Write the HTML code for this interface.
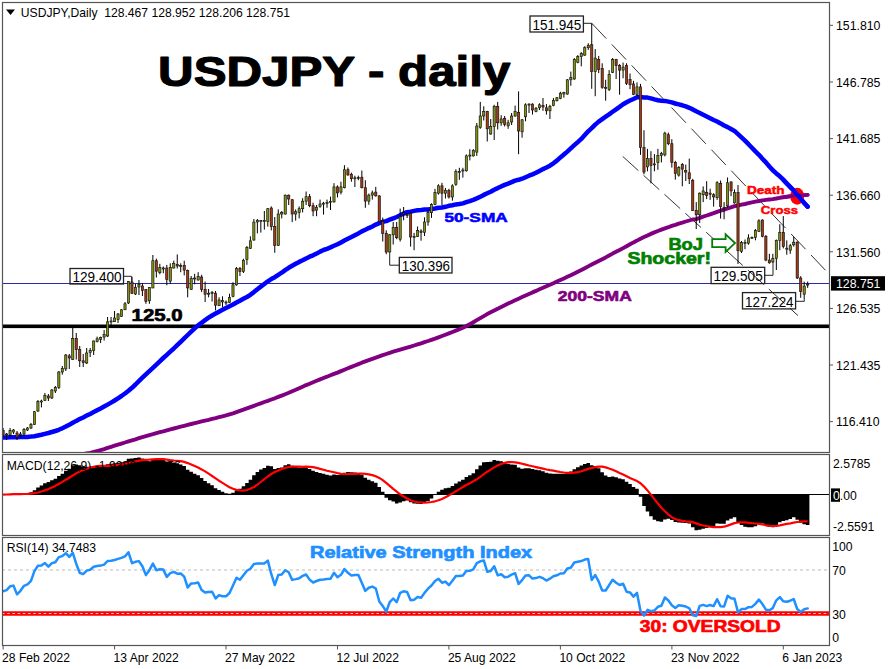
<!DOCTYPE html><html><head><meta charset="utf-8"><style>html,body{margin:0;padding:0;background:#fff;width:892px;height:669px;overflow:hidden}svg{display:block}text{font-family:"Liberation Sans",sans-serif}</style></head><body>
<svg width="892" height="669" viewBox="0 0 892 669">
<defs><clipPath id="cm"><rect x="2.5" y="2.5" width="827" height="450"/></clipPath><clipPath id="cd"><rect x="2.5" y="454.5" width="827" height="80.5"/></clipPath><clipPath id="cr"><rect x="2.5" y="537.5" width="827" height="107.5"/></clipPath></defs>
<g clip-path="url(#cm)">
<rect x="2" y="324.5" width="828" height="3.6" fill="#000"/>
<line x1="2" y1="283.5" x2="830" y2="283.5" stroke="#2a2aa8" stroke-width="1"/>
<line x1="591.8" y1="23.3" x2="827" y2="271.9" stroke="#333" stroke-width="1" stroke-dasharray="21 8"/>
<line x1="622.7" y1="156.4" x2="798" y2="315.6" stroke="#333" stroke-width="1" stroke-dasharray="21.2 7"/>
<polyline points="3.1,466.0 6.6,465.8 10.1,465.6 13.5,465.3 17.0,465.0 20.5,464.7 24.0,464.3 27.5,463.9 31.0,463.5 34.4,463.0 37.9,462.6 41.4,462.0 44.9,461.5 48.4,460.9 51.9,460.3 55.3,459.7 58.8,459.1 62.3,458.4 65.8,457.8 69.3,457.1 72.8,456.4 76.2,455.7 79.7,455.0 83.2,454.2 86.7,453.5 90.2,452.8 93.7,452.0 97.1,451.1 100.6,450.1 104.1,449.1 107.6,447.9 111.1,446.8 114.6,445.7 118.0,444.7 121.5,443.6 125.0,442.5 128.5,441.4 132.0,440.3 135.5,439.3 138.9,438.2 142.4,437.1 145.9,436.1 149.4,435.1 152.9,434.2 156.4,433.2 159.8,432.2 163.3,431.3 166.8,430.3 170.3,429.4 173.8,428.5 177.2,427.6 180.7,426.7 184.2,425.8 187.7,424.9 191.2,424.0 194.7,423.1 198.1,422.3 201.6,421.4 205.1,420.6 208.6,419.8 212.1,418.9 215.6,418.1 219.0,417.2 222.5,416.3 226.0,415.4 229.5,414.3 233.0,413.3 236.5,412.1 239.9,410.9 243.4,409.7 246.9,408.4 250.4,407.1 253.9,405.8 257.4,404.5 260.8,403.3 264.3,402.0 267.8,400.8 271.3,399.5 274.8,398.3 278.3,396.9 281.7,395.6 285.2,394.2 288.7,392.8 292.2,391.3 295.7,389.8 299.2,388.2 302.6,386.7 306.1,385.1 309.6,383.7 313.1,382.2 316.6,380.8 320.1,379.4 323.5,378.0 327.0,376.7 330.5,375.3 334.0,373.9 337.5,372.6 341.0,371.1 344.4,369.7 347.9,368.3 351.4,366.9 354.9,365.5 358.4,364.1 361.8,362.7 365.3,361.4 368.8,360.1 372.3,358.8 375.8,357.6 379.3,356.4 382.7,355.2 386.2,354.0 389.7,352.8 393.2,351.7 396.7,350.7 400.2,349.6 403.6,348.6 407.1,347.6 410.6,346.6 414.1,345.5 417.6,344.4 421.1,343.3 424.5,342.1 428.0,341.0 431.5,339.8 435.0,338.6 438.5,337.3 442.0,336.0 445.4,334.7 448.9,333.4 452.4,332.0 455.9,330.6 459.4,329.2 462.9,327.7 466.3,326.1 469.8,324.3 473.3,322.3 476.8,320.2 480.3,318.1 483.8,316.1 487.2,314.1 490.7,312.3 494.2,310.5 497.7,308.7 501.2,307.0 504.7,305.3 508.1,303.6 511.6,301.9 515.1,300.3 518.6,298.7 522.1,297.1 525.6,295.5 529.0,294.0 532.5,292.4 536.0,290.9 539.5,289.3 543.0,287.8 546.4,286.2 549.9,284.7 553.4,283.2 556.9,281.6 560.4,280.0 563.9,278.4 567.3,276.8 570.8,275.2 574.3,273.5 577.8,271.7 581.3,270.0 584.8,268.2 588.2,266.4 591.7,264.6 595.2,262.8 598.7,261.0 602.2,259.2 605.7,257.4 609.1,255.5 612.6,253.6 616.1,251.8 619.6,250.0 623.1,248.1 626.6,246.2 630.0,244.3 633.5,242.4 637.0,240.6 640.5,238.7 644.0,237.0 647.5,235.4 650.9,233.9 654.4,232.4 657.9,231.0 661.4,229.7 664.9,228.4 668.4,227.2 671.8,225.9 675.3,224.8 678.8,223.6 682.3,222.6 685.8,221.5 689.3,220.5 692.7,219.5 696.2,219.1 699.7,217.9 703.2,216.6 706.7,215.5 710.1,214.3 713.6,213.1 717.1,211.8 720.6,210.7 724.1,209.6 727.6,208.4 731.0,207.3 734.5,206.2 738.0,205.5 741.5,204.7 745.0,204.0 748.5,203.2 751.9,202.4 755.4,201.7 758.9,201.0 762.4,200.4 765.9,199.9 769.4,199.5 772.8,199.1 776.3,198.5 779.8,197.8 783.3,197.3 786.8,196.8 790.3,196.3 793.7,195.8 797.2,195.5 800.7,195.3 804.2,195.1 807.7,194.9" fill="none" stroke="#800080" stroke-width="3.9" stroke-linejoin="round" stroke-linecap="round"/>
<polyline points="2.0,437.4 3.1,437.4 6.6,437.4 10.1,437.3 13.5,437.3 17.0,437.2 20.5,437.1 24.0,437.0 27.5,436.9 31.0,436.6 34.4,436.2 37.9,435.5 41.4,434.8 44.9,433.9 48.4,433.0 51.9,432.0 55.3,431.0 58.8,429.8 62.3,428.2 65.8,426.5 69.3,424.7 72.8,422.8 76.2,420.9 79.7,419.1 83.2,417.4 86.7,415.6 90.2,413.9 93.7,412.1 97.1,410.3 100.6,408.5 104.1,406.6 107.6,404.6 111.1,402.6 114.6,400.5 118.0,398.3 121.5,396.0 125.0,393.5 128.5,390.8 132.0,387.8 135.5,384.5 138.9,381.1 142.4,377.7 145.9,374.4 149.4,371.2 152.9,367.9 156.4,364.6 159.8,361.3 163.3,358.0 166.8,354.8 170.3,351.6 173.8,348.5 177.2,345.2 180.7,341.8 184.2,338.4 187.7,335.0 191.2,331.6 194.7,328.4 198.1,325.4 201.6,322.7 205.1,320.1 208.6,317.7 212.1,315.5 215.6,313.6 219.0,311.7 222.5,309.8 226.0,308.0 229.5,306.2 233.0,304.5 236.5,302.5 239.9,300.8 243.4,298.8 246.9,297.0 250.4,294.8 253.9,292.1 257.4,289.2 260.8,286.6 264.3,284.0 267.8,281.3 271.3,279.1 274.8,277.2 278.3,274.8 281.7,272.7 285.2,270.1 288.7,267.8 292.2,265.8 295.7,263.8 299.2,261.9 302.6,260.3 306.1,258.4 309.6,256.7 313.1,255.3 316.6,253.6 320.1,251.6 323.5,250.0 327.0,248.8 330.5,247.4 334.0,245.8 337.5,244.3 341.0,242.4 344.4,240.5 347.9,238.7 351.4,237.0 354.9,235.2 358.4,233.4 361.8,231.4 365.3,229.8 368.8,228.1 372.3,226.5 375.8,224.6 379.3,223.1 382.7,221.9 386.2,221.1 389.7,219.7 393.2,218.3 396.7,217.0 400.2,215.3 403.6,213.6 407.1,212.2 410.6,211.6 414.1,210.9 417.6,210.3 421.1,210.0 424.5,209.6 428.0,209.4 431.5,209.1 435.0,208.5 438.5,207.8 442.0,207.5 445.4,206.8 448.9,205.8 452.4,205.2 455.9,204.4 459.4,204.0 462.9,203.4 466.3,202.2 469.8,201.1 473.3,199.9 476.8,198.4 480.3,196.8 483.8,194.9 487.2,193.3 490.7,191.7 494.2,189.7 497.7,188.1 501.2,186.4 504.7,184.9 508.1,183.6 511.6,182.1 515.1,180.6 518.6,179.8 522.1,178.7 525.6,177.2 529.0,175.7 532.5,174.4 536.0,172.8 539.5,170.9 543.0,169.1 546.4,167.5 549.9,165.7 553.4,163.3 556.9,160.6 560.4,157.4 563.9,154.5 567.3,151.6 570.8,148.4 574.3,145.2 577.8,142.1 581.3,138.9 584.8,135.1 588.2,131.3 591.7,128.1 595.2,124.6 598.7,121.6 602.2,119.1 605.7,116.7 609.1,114.4 612.6,111.8 616.1,109.3 619.6,106.9 623.1,104.3 626.6,102.2 630.0,100.5 633.5,99.0 637.0,97.3 640.5,97.1 644.0,97.5 647.5,97.6 650.9,98.4 654.4,99.4 657.9,100.2 661.4,100.7 664.9,100.9 668.4,101.6 671.8,102.4 675.3,103.5 678.8,104.4 682.3,105.3 685.8,106.4 689.3,107.8 692.7,109.4 696.2,111.3 699.7,113.0 703.2,114.8 706.7,116.5 710.1,118.2 713.6,120.0 717.1,121.5 720.6,123.4 724.1,125.5 727.6,127.1 731.0,129.0 734.5,130.9 738.0,134.1 741.5,137.4 745.0,140.7 748.5,144.2 751.9,147.8 755.4,151.4 758.9,154.8 762.4,158.7 765.9,162.4 769.4,166.5 772.8,170.3 776.3,173.4 779.8,176.3 783.3,179.7 786.8,183.5 790.3,187.1 793.7,190.5 797.2,194.7 800.7,198.9 804.2,202.9 807.7,206.7" fill="none" stroke="#0000ff" stroke-width="4.5" stroke-linejoin="round" stroke-linecap="round"/>
<ellipse cx="797.2" cy="196.2" rx="7" ry="8.5" fill="#ff0000"/>
<polyline points="783.3,197.3 786.8,196.8 790.3,196.3 793.7,195.8 797.2,195.5 800.7,195.3 804.2,195.1 807.7,194.9" fill="none" stroke="#800080" stroke-width="3.4" stroke-linejoin="round" stroke-linecap="round"/>
<polyline points="783.3,179.7 786.8,183.5 790.3,187.1 793.7,190.5 797.2,194.7 800.7,198.9 804.2,202.9 807.7,206.7" fill="none" stroke="#0000ff" stroke-width="4.3" stroke-linejoin="round" stroke-linecap="round"/>
<line x1="3.10" y1="428.0" x2="3.10" y2="437.0" stroke="#000" stroke-width="1"/>
<line x1="6.58" y1="433.0" x2="6.58" y2="440.0" stroke="#000" stroke-width="1"/>
<line x1="10.07" y1="428.0" x2="10.07" y2="437.0" stroke="#000" stroke-width="1"/>
<line x1="13.55" y1="429.0" x2="13.55" y2="434.0" stroke="#000" stroke-width="1"/>
<line x1="17.03" y1="431.0" x2="17.03" y2="440.0" stroke="#000" stroke-width="1"/>
<line x1="20.52" y1="432.0" x2="20.52" y2="437.0" stroke="#000" stroke-width="1"/>
<line x1="24.00" y1="428.0" x2="24.00" y2="436.0" stroke="#000" stroke-width="1"/>
<line x1="27.48" y1="427.0" x2="27.48" y2="431.0" stroke="#000" stroke-width="1"/>
<line x1="30.96" y1="423.0" x2="30.96" y2="429.0" stroke="#000" stroke-width="1"/>
<line x1="34.45" y1="411.0" x2="34.45" y2="425.0" stroke="#000" stroke-width="1"/>
<line x1="37.93" y1="400.0" x2="37.93" y2="412.0" stroke="#000" stroke-width="1"/>
<line x1="41.41" y1="399.7" x2="41.41" y2="407.4" stroke="#000" stroke-width="1"/>
<line x1="44.90" y1="393.0" x2="44.90" y2="401.0" stroke="#000" stroke-width="1"/>
<line x1="48.38" y1="394.0" x2="48.38" y2="401.0" stroke="#000" stroke-width="1"/>
<line x1="51.86" y1="389.0" x2="51.86" y2="399.0" stroke="#000" stroke-width="1"/>
<line x1="55.35" y1="386.0" x2="55.35" y2="393.0" stroke="#000" stroke-width="1"/>
<line x1="58.83" y1="371.0" x2="58.83" y2="389.0" stroke="#000" stroke-width="1"/>
<line x1="62.31" y1="366.0" x2="62.31" y2="374.7" stroke="#000" stroke-width="1"/>
<line x1="65.79" y1="354.0" x2="65.79" y2="371.0" stroke="#000" stroke-width="1"/>
<line x1="69.28" y1="354.0" x2="69.28" y2="369.0" stroke="#000" stroke-width="1"/>
<line x1="72.76" y1="327.6" x2="72.76" y2="360.0" stroke="#000" stroke-width="1"/>
<line x1="76.24" y1="333.0" x2="76.24" y2="359.5" stroke="#000" stroke-width="1"/>
<line x1="79.73" y1="346.0" x2="79.73" y2="367.0" stroke="#000" stroke-width="1"/>
<line x1="83.21" y1="354.0" x2="83.21" y2="367.0" stroke="#000" stroke-width="1"/>
<line x1="86.69" y1="348.0" x2="86.69" y2="364.0" stroke="#000" stroke-width="1"/>
<line x1="90.17" y1="348.0" x2="90.17" y2="357.0" stroke="#000" stroke-width="1"/>
<line x1="93.66" y1="340.6" x2="93.66" y2="355.0" stroke="#000" stroke-width="1"/>
<line x1="97.14" y1="336.6" x2="97.14" y2="342.4" stroke="#000" stroke-width="1"/>
<line x1="100.62" y1="336.6" x2="100.62" y2="343.0" stroke="#000" stroke-width="1"/>
<line x1="104.11" y1="330.0" x2="104.11" y2="340.6" stroke="#000" stroke-width="1"/>
<line x1="107.59" y1="317.0" x2="107.59" y2="337.0" stroke="#000" stroke-width="1"/>
<line x1="111.07" y1="317.0" x2="111.07" y2="327.0" stroke="#000" stroke-width="1"/>
<line x1="114.56" y1="311.0" x2="114.56" y2="322.0" stroke="#000" stroke-width="1"/>
<line x1="118.04" y1="313.0" x2="118.04" y2="323.0" stroke="#000" stroke-width="1"/>
<line x1="121.52" y1="309.0" x2="121.52" y2="317.0" stroke="#000" stroke-width="1"/>
<line x1="125.00" y1="302.0" x2="125.00" y2="310.0" stroke="#000" stroke-width="1"/>
<line x1="128.49" y1="281.0" x2="128.49" y2="304.0" stroke="#000" stroke-width="1"/>
<line x1="131.97" y1="277.0" x2="131.97" y2="294.0" stroke="#000" stroke-width="1"/>
<line x1="135.45" y1="284.0" x2="135.45" y2="295.0" stroke="#000" stroke-width="1"/>
<line x1="138.94" y1="280.0" x2="138.94" y2="295.0" stroke="#000" stroke-width="1"/>
<line x1="142.42" y1="283.0" x2="142.42" y2="296.0" stroke="#000" stroke-width="1"/>
<line x1="145.90" y1="289.0" x2="145.90" y2="303.8" stroke="#000" stroke-width="1"/>
<line x1="149.39" y1="287.0" x2="149.39" y2="303.8" stroke="#000" stroke-width="1"/>
<line x1="152.87" y1="255.0" x2="152.87" y2="288.0" stroke="#000" stroke-width="1"/>
<line x1="156.35" y1="258.6" x2="156.35" y2="277.5" stroke="#000" stroke-width="1"/>
<line x1="159.84" y1="263.8" x2="159.84" y2="274.3" stroke="#000" stroke-width="1"/>
<line x1="163.32" y1="266.5" x2="163.32" y2="273.3" stroke="#000" stroke-width="1"/>
<line x1="166.80" y1="264.9" x2="166.80" y2="285.3" stroke="#000" stroke-width="1"/>
<line x1="170.28" y1="263.3" x2="170.28" y2="283.7" stroke="#000" stroke-width="1"/>
<line x1="173.77" y1="260.7" x2="173.77" y2="268.5" stroke="#000" stroke-width="1"/>
<line x1="177.25" y1="254.4" x2="177.25" y2="268.5" stroke="#000" stroke-width="1"/>
<line x1="180.73" y1="263.3" x2="180.73" y2="272.2" stroke="#000" stroke-width="1"/>
<line x1="184.22" y1="260.7" x2="184.22" y2="275.4" stroke="#000" stroke-width="1"/>
<line x1="187.70" y1="269.6" x2="187.70" y2="297.3" stroke="#000" stroke-width="1"/>
<line x1="191.18" y1="276.0" x2="191.18" y2="290.0" stroke="#000" stroke-width="1"/>
<line x1="194.66" y1="273.8" x2="194.66" y2="284.3" stroke="#000" stroke-width="1"/>
<line x1="198.15" y1="272.2" x2="198.15" y2="280.6" stroke="#000" stroke-width="1"/>
<line x1="201.63" y1="274.8" x2="201.63" y2="292.1" stroke="#000" stroke-width="1"/>
<line x1="205.11" y1="281.6" x2="205.11" y2="302.0" stroke="#000" stroke-width="1"/>
<line x1="208.60" y1="289.0" x2="208.60" y2="297.3" stroke="#000" stroke-width="1"/>
<line x1="212.08" y1="291.0" x2="212.08" y2="301.5" stroke="#000" stroke-width="1"/>
<line x1="215.56" y1="291.0" x2="215.56" y2="310.4" stroke="#000" stroke-width="1"/>
<line x1="219.05" y1="297.3" x2="219.05" y2="306.0" stroke="#000" stroke-width="1"/>
<line x1="222.53" y1="296.3" x2="222.53" y2="307.3" stroke="#000" stroke-width="1"/>
<line x1="226.01" y1="300.5" x2="226.01" y2="305.0" stroke="#000" stroke-width="1"/>
<line x1="229.50" y1="293.7" x2="229.50" y2="303.0" stroke="#000" stroke-width="1"/>
<line x1="232.98" y1="282.2" x2="232.98" y2="297.3" stroke="#000" stroke-width="1"/>
<line x1="236.46" y1="267.0" x2="236.46" y2="285.7" stroke="#000" stroke-width="1"/>
<line x1="239.94" y1="267.0" x2="239.94" y2="276.0" stroke="#000" stroke-width="1"/>
<line x1="243.43" y1="258.8" x2="243.43" y2="273.0" stroke="#000" stroke-width="1"/>
<line x1="246.91" y1="246.0" x2="246.91" y2="264.8" stroke="#000" stroke-width="1"/>
<line x1="250.39" y1="236.3" x2="250.39" y2="249.0" stroke="#000" stroke-width="1"/>
<line x1="253.88" y1="219.0" x2="253.88" y2="240.8" stroke="#000" stroke-width="1"/>
<line x1="257.36" y1="219.0" x2="257.36" y2="233.4" stroke="#000" stroke-width="1"/>
<line x1="260.84" y1="220.0" x2="260.84" y2="232.6" stroke="#000" stroke-width="1"/>
<line x1="264.33" y1="211.0" x2="264.33" y2="229.6" stroke="#000" stroke-width="1"/>
<line x1="267.81" y1="208.0" x2="267.81" y2="226.6" stroke="#000" stroke-width="1"/>
<line x1="271.29" y1="206.4" x2="271.29" y2="230.4" stroke="#000" stroke-width="1"/>
<line x1="274.77" y1="217.0" x2="274.77" y2="252.8" stroke="#000" stroke-width="1"/>
<line x1="278.26" y1="209.4" x2="278.26" y2="246.0" stroke="#000" stroke-width="1"/>
<line x1="281.74" y1="211.0" x2="281.74" y2="218.4" stroke="#000" stroke-width="1"/>
<line x1="285.22" y1="194.5" x2="285.22" y2="214.6" stroke="#000" stroke-width="1"/>
<line x1="288.71" y1="194.5" x2="288.71" y2="205.0" stroke="#000" stroke-width="1"/>
<line x1="292.19" y1="199.0" x2="292.19" y2="222.1" stroke="#000" stroke-width="1"/>
<line x1="295.67" y1="209.4" x2="295.67" y2="220.6" stroke="#000" stroke-width="1"/>
<line x1="299.16" y1="206.4" x2="299.16" y2="218.4" stroke="#000" stroke-width="1"/>
<line x1="302.64" y1="198.2" x2="302.64" y2="212.4" stroke="#000" stroke-width="1"/>
<line x1="306.12" y1="191.5" x2="306.12" y2="205.0" stroke="#000" stroke-width="1"/>
<line x1="309.60" y1="194.0" x2="309.60" y2="207.2" stroke="#000" stroke-width="1"/>
<line x1="313.09" y1="202.7" x2="313.09" y2="216.2" stroke="#000" stroke-width="1"/>
<line x1="316.57" y1="205.0" x2="316.57" y2="216.2" stroke="#000" stroke-width="1"/>
<line x1="320.05" y1="199.6" x2="320.05" y2="207.8" stroke="#000" stroke-width="1"/>
<line x1="323.54" y1="201.9" x2="323.54" y2="214.6" stroke="#000" stroke-width="1"/>
<line x1="327.02" y1="199.6" x2="327.02" y2="207.8" stroke="#000" stroke-width="1"/>
<line x1="330.50" y1="196.6" x2="330.50" y2="210.0" stroke="#000" stroke-width="1"/>
<line x1="333.99" y1="183.2" x2="333.99" y2="202.6" stroke="#000" stroke-width="1"/>
<line x1="337.47" y1="185.4" x2="337.47" y2="197.4" stroke="#000" stroke-width="1"/>
<line x1="340.95" y1="181.7" x2="340.95" y2="194.4" stroke="#000" stroke-width="1"/>
<line x1="344.43" y1="165.2" x2="344.43" y2="188.4" stroke="#000" stroke-width="1"/>
<line x1="347.92" y1="167.5" x2="347.92" y2="175.7" stroke="#000" stroke-width="1"/>
<line x1="351.40" y1="172.7" x2="351.40" y2="181.7" stroke="#000" stroke-width="1"/>
<line x1="354.88" y1="175.7" x2="354.88" y2="187.0" stroke="#000" stroke-width="1"/>
<line x1="358.37" y1="175.7" x2="358.37" y2="180.2" stroke="#000" stroke-width="1"/>
<line x1="361.85" y1="170.5" x2="361.85" y2="188.4" stroke="#000" stroke-width="1"/>
<line x1="365.33" y1="180.2" x2="365.33" y2="207.8" stroke="#000" stroke-width="1"/>
<line x1="368.82" y1="193.6" x2="368.82" y2="204.8" stroke="#000" stroke-width="1"/>
<line x1="372.30" y1="190.6" x2="372.30" y2="199.6" stroke="#000" stroke-width="1"/>
<line x1="375.78" y1="186.9" x2="375.78" y2="196.6" stroke="#000" stroke-width="1"/>
<line x1="379.26" y1="195.1" x2="379.26" y2="222.0" stroke="#000" stroke-width="1"/>
<line x1="382.75" y1="217.6" x2="382.75" y2="241.5" stroke="#000" stroke-width="1"/>
<line x1="386.23" y1="230.3" x2="386.23" y2="254.2" stroke="#000" stroke-width="1"/>
<line x1="389.71" y1="234.0" x2="389.71" y2="252.0" stroke="#000" stroke-width="1"/>
<line x1="393.20" y1="222.0" x2="393.20" y2="244.5" stroke="#000" stroke-width="1"/>
<line x1="396.68" y1="222.0" x2="396.68" y2="239.2" stroke="#000" stroke-width="1"/>
<line x1="400.16" y1="208.6" x2="400.16" y2="241.5" stroke="#000" stroke-width="1"/>
<line x1="403.65" y1="207.0" x2="403.65" y2="220.3" stroke="#000" stroke-width="1"/>
<line x1="407.13" y1="213.0" x2="407.13" y2="218.0" stroke="#000" stroke-width="1"/>
<line x1="410.61" y1="212.0" x2="410.61" y2="246.6" stroke="#000" stroke-width="1"/>
<line x1="414.09" y1="232.9" x2="414.09" y2="250.2" stroke="#000" stroke-width="1"/>
<line x1="417.58" y1="226.5" x2="417.58" y2="237.0" stroke="#000" stroke-width="1"/>
<line x1="421.06" y1="229.3" x2="421.06" y2="240.7" stroke="#000" stroke-width="1"/>
<line x1="424.54" y1="217.3" x2="424.54" y2="236.0" stroke="#000" stroke-width="1"/>
<line x1="428.03" y1="210.0" x2="428.03" y2="225.7" stroke="#000" stroke-width="1"/>
<line x1="431.51" y1="203.3" x2="431.51" y2="217.9" stroke="#000" stroke-width="1"/>
<line x1="434.99" y1="188.8" x2="434.99" y2="205.2" stroke="#000" stroke-width="1"/>
<line x1="438.48" y1="184.3" x2="438.48" y2="194.6" stroke="#000" stroke-width="1"/>
<line x1="441.96" y1="182.8" x2="441.96" y2="205.2" stroke="#000" stroke-width="1"/>
<line x1="445.44" y1="188.0" x2="445.44" y2="198.5" stroke="#000" stroke-width="1"/>
<line x1="448.92" y1="188.8" x2="448.92" y2="198.5" stroke="#000" stroke-width="1"/>
<line x1="452.41" y1="184.3" x2="452.41" y2="200.7" stroke="#000" stroke-width="1"/>
<line x1="455.89" y1="169.3" x2="455.89" y2="185.8" stroke="#000" stroke-width="1"/>
<line x1="459.37" y1="167.8" x2="459.37" y2="179.8" stroke="#000" stroke-width="1"/>
<line x1="462.86" y1="167.8" x2="462.86" y2="177.6" stroke="#000" stroke-width="1"/>
<line x1="466.34" y1="154.4" x2="466.34" y2="171.6" stroke="#000" stroke-width="1"/>
<line x1="469.82" y1="149.2" x2="469.82" y2="160.4" stroke="#000" stroke-width="1"/>
<line x1="473.31" y1="149.2" x2="473.31" y2="156.6" stroke="#000" stroke-width="1"/>
<line x1="476.79" y1="123.0" x2="476.79" y2="155.9" stroke="#000" stroke-width="1"/>
<line x1="480.27" y1="101.9" x2="480.27" y2="128.8" stroke="#000" stroke-width="1"/>
<line x1="483.75" y1="106.3" x2="483.75" y2="120.5" stroke="#000" stroke-width="1"/>
<line x1="487.24" y1="110.8" x2="487.24" y2="141.5" stroke="#000" stroke-width="1"/>
<line x1="490.72" y1="119.0" x2="490.72" y2="134.7" stroke="#000" stroke-width="1"/>
<line x1="494.20" y1="104.8" x2="494.20" y2="140.0" stroke="#000" stroke-width="1"/>
<line x1="497.69" y1="101.9" x2="497.69" y2="129.5" stroke="#000" stroke-width="1"/>
<line x1="501.17" y1="115.3" x2="501.17" y2="125.8" stroke="#000" stroke-width="1"/>
<line x1="504.65" y1="116.0" x2="504.65" y2="126.5" stroke="#000" stroke-width="1"/>
<line x1="508.14" y1="119.8" x2="508.14" y2="128.8" stroke="#000" stroke-width="1"/>
<line x1="511.62" y1="113.0" x2="511.62" y2="125.0" stroke="#000" stroke-width="1"/>
<line x1="515.10" y1="105.6" x2="515.10" y2="116.8" stroke="#000" stroke-width="1"/>
<line x1="518.58" y1="91.4" x2="518.58" y2="154.2" stroke="#000" stroke-width="1"/>
<line x1="522.07" y1="119.0" x2="522.07" y2="137.7" stroke="#000" stroke-width="1"/>
<line x1="525.55" y1="103.3" x2="525.55" y2="121.3" stroke="#000" stroke-width="1"/>
<line x1="529.03" y1="103.3" x2="529.03" y2="113.0" stroke="#000" stroke-width="1"/>
<line x1="532.52" y1="103.3" x2="532.52" y2="114.6" stroke="#000" stroke-width="1"/>
<line x1="536.00" y1="107.0" x2="536.00" y2="112.3" stroke="#000" stroke-width="1"/>
<line x1="539.48" y1="103.3" x2="539.48" y2="110.0" stroke="#000" stroke-width="1"/>
<line x1="542.97" y1="98.0" x2="542.97" y2="110.8" stroke="#000" stroke-width="1"/>
<line x1="546.45" y1="104.1" x2="546.45" y2="114.6" stroke="#000" stroke-width="1"/>
<line x1="549.93" y1="104.8" x2="549.93" y2="119.0" stroke="#000" stroke-width="1"/>
<line x1="553.41" y1="98.0" x2="553.41" y2="106.3" stroke="#000" stroke-width="1"/>
<line x1="556.90" y1="97.0" x2="556.90" y2="101.5" stroke="#000" stroke-width="1"/>
<line x1="560.38" y1="91.8" x2="560.38" y2="99.2" stroke="#000" stroke-width="1"/>
<line x1="563.86" y1="91.8" x2="563.86" y2="97.7" stroke="#000" stroke-width="1"/>
<line x1="567.35" y1="79.0" x2="567.35" y2="94.7" stroke="#000" stroke-width="1"/>
<line x1="570.83" y1="71.6" x2="570.83" y2="85.8" stroke="#000" stroke-width="1"/>
<line x1="574.31" y1="58.1" x2="574.31" y2="79.8" stroke="#000" stroke-width="1"/>
<line x1="577.80" y1="55.1" x2="577.80" y2="63.3" stroke="#000" stroke-width="1"/>
<line x1="581.28" y1="52.1" x2="581.28" y2="66.3" stroke="#000" stroke-width="1"/>
<line x1="584.76" y1="46.2" x2="584.76" y2="55.9" stroke="#000" stroke-width="1"/>
<line x1="588.24" y1="43.2" x2="588.24" y2="49.9" stroke="#000" stroke-width="1"/>
<line x1="591.73" y1="23.7" x2="591.73" y2="88.8" stroke="#000" stroke-width="1"/>
<line x1="595.21" y1="49.1" x2="595.21" y2="96.2" stroke="#000" stroke-width="1"/>
<line x1="598.69" y1="55.9" x2="598.69" y2="73.1" stroke="#000" stroke-width="1"/>
<line x1="602.18" y1="63.3" x2="602.18" y2="88.8" stroke="#000" stroke-width="1"/>
<line x1="605.66" y1="79.8" x2="605.66" y2="100.7" stroke="#000" stroke-width="1"/>
<line x1="609.14" y1="70.1" x2="609.14" y2="91.0" stroke="#000" stroke-width="1"/>
<line x1="612.62" y1="58.1" x2="612.62" y2="73.1" stroke="#000" stroke-width="1"/>
<line x1="616.11" y1="58.9" x2="616.11" y2="79.0" stroke="#000" stroke-width="1"/>
<line x1="619.59" y1="64.1" x2="619.59" y2="94.7" stroke="#000" stroke-width="1"/>
<line x1="623.07" y1="62.6" x2="623.07" y2="78.3" stroke="#000" stroke-width="1"/>
<line x1="626.56" y1="63.3" x2="626.56" y2="85.0" stroke="#000" stroke-width="1"/>
<line x1="630.04" y1="73.5" x2="630.04" y2="89.2" stroke="#000" stroke-width="1"/>
<line x1="633.52" y1="80.9" x2="633.52" y2="95.1" stroke="#000" stroke-width="1"/>
<line x1="637.01" y1="82.4" x2="637.01" y2="95.9" stroke="#000" stroke-width="1"/>
<line x1="640.49" y1="83.9" x2="640.49" y2="154.9" stroke="#000" stroke-width="1"/>
<line x1="643.97" y1="130.2" x2="643.97" y2="174.3" stroke="#000" stroke-width="1"/>
<line x1="647.46" y1="148.9" x2="647.46" y2="171.3" stroke="#000" stroke-width="1"/>
<line x1="650.94" y1="151.2" x2="650.94" y2="183.3" stroke="#000" stroke-width="1"/>
<line x1="654.42" y1="154.1" x2="654.42" y2="171.3" stroke="#000" stroke-width="1"/>
<line x1="657.90" y1="148.9" x2="657.90" y2="169.8" stroke="#000" stroke-width="1"/>
<line x1="661.39" y1="151.9" x2="661.39" y2="162.4" stroke="#000" stroke-width="1"/>
<line x1="664.87" y1="131.7" x2="664.87" y2="156.4" stroke="#000" stroke-width="1"/>
<line x1="668.35" y1="132.5" x2="668.35" y2="145.2" stroke="#000" stroke-width="1"/>
<line x1="671.84" y1="139.2" x2="671.84" y2="167.6" stroke="#000" stroke-width="1"/>
<line x1="675.32" y1="160.9" x2="675.32" y2="179.6" stroke="#000" stroke-width="1"/>
<line x1="678.80" y1="166.1" x2="678.80" y2="176.6" stroke="#000" stroke-width="1"/>
<line x1="682.29" y1="163.1" x2="682.29" y2="186.3" stroke="#000" stroke-width="1"/>
<line x1="685.77" y1="164.6" x2="685.77" y2="181.0" stroke="#000" stroke-width="1"/>
<line x1="689.25" y1="158.6" x2="689.25" y2="184.0" stroke="#000" stroke-width="1"/>
<line x1="692.73" y1="178.8" x2="692.73" y2="211.0" stroke="#000" stroke-width="1"/>
<line x1="696.22" y1="202.1" x2="696.22" y2="229.0" stroke="#000" stroke-width="1"/>
<line x1="699.70" y1="192.4" x2="699.70" y2="223.0" stroke="#000" stroke-width="1"/>
<line x1="703.18" y1="186.4" x2="703.18" y2="202.1" stroke="#000" stroke-width="1"/>
<line x1="706.67" y1="181.2" x2="706.67" y2="199.1" stroke="#000" stroke-width="1"/>
<line x1="710.15" y1="188.7" x2="710.15" y2="199.9" stroke="#000" stroke-width="1"/>
<line x1="713.63" y1="193.2" x2="713.63" y2="206.6" stroke="#000" stroke-width="1"/>
<line x1="717.12" y1="181.2" x2="717.12" y2="199.9" stroke="#000" stroke-width="1"/>
<line x1="720.60" y1="180.5" x2="720.60" y2="218.6" stroke="#000" stroke-width="1"/>
<line x1="724.08" y1="202.1" x2="724.08" y2="219.3" stroke="#000" stroke-width="1"/>
<line x1="727.56" y1="177.5" x2="727.56" y2="207.4" stroke="#000" stroke-width="1"/>
<line x1="731.05" y1="181.2" x2="731.05" y2="196.2" stroke="#000" stroke-width="1"/>
<line x1="734.53" y1="189.4" x2="734.53" y2="203.6" stroke="#000" stroke-width="1"/>
<line x1="738.01" y1="185.0" x2="738.01" y2="264.0" stroke="#000" stroke-width="1"/>
<line x1="741.50" y1="241.0" x2="741.50" y2="253.0" stroke="#000" stroke-width="1"/>
<line x1="744.98" y1="239.5" x2="744.98" y2="249.2" stroke="#000" stroke-width="1"/>
<line x1="748.46" y1="234.3" x2="748.46" y2="244.7" stroke="#000" stroke-width="1"/>
<line x1="751.95" y1="236.5" x2="751.95" y2="238.8" stroke="#000" stroke-width="1"/>
<line x1="755.43" y1="229.0" x2="755.43" y2="240.3" stroke="#000" stroke-width="1"/>
<line x1="758.91" y1="219.3" x2="758.91" y2="232.0" stroke="#000" stroke-width="1"/>
<line x1="762.39" y1="219.3" x2="762.39" y2="237.3" stroke="#000" stroke-width="1"/>
<line x1="765.88" y1="235.0" x2="765.88" y2="261.2" stroke="#000" stroke-width="1"/>
<line x1="769.36" y1="253.8" x2="769.36" y2="263.7" stroke="#000" stroke-width="1"/>
<line x1="772.84" y1="253.8" x2="772.84" y2="262.8" stroke="#000" stroke-width="1"/>
<line x1="776.33" y1="239.5" x2="776.33" y2="270.0" stroke="#000" stroke-width="1"/>
<line x1="779.81" y1="224.2" x2="779.81" y2="250.2" stroke="#000" stroke-width="1"/>
<line x1="783.29" y1="216.1" x2="783.29" y2="248.4" stroke="#000" stroke-width="1"/>
<line x1="786.78" y1="240.4" x2="786.78" y2="254.7" stroke="#000" stroke-width="1"/>
<line x1="790.26" y1="243.9" x2="790.26" y2="253.8" stroke="#000" stroke-width="1"/>
<line x1="793.74" y1="236.8" x2="793.74" y2="246.6" stroke="#000" stroke-width="1"/>
<line x1="797.22" y1="241.3" x2="797.22" y2="279.0" stroke="#000" stroke-width="1"/>
<line x1="800.71" y1="276.2" x2="800.71" y2="297.8" stroke="#000" stroke-width="1"/>
<line x1="804.19" y1="281.6" x2="804.19" y2="299.6" stroke="#000" stroke-width="1"/>
<line x1="807.67" y1="281.6" x2="807.67" y2="287.9" stroke="#000" stroke-width="1"/>
<rect x="2.00" y="430.6" width="2.2" height="4.4" fill="#a8380e" stroke="#111" stroke-width="0.65"/>
<rect x="5.48" y="434.0" width="2.2" height="1.0" fill="#82920c" stroke="#111" stroke-width="0.65"/>
<rect x="8.97" y="430.6" width="2.2" height="4.4" fill="#82920c" stroke="#111" stroke-width="0.65"/>
<rect x="12.45" y="430.0" width="2.2" height="2.0" fill="#82920c" stroke="#111" stroke-width="0.65"/>
<rect x="15.93" y="433.0" width="2.2" height="4.0" fill="#a8380e" stroke="#111" stroke-width="0.65"/>
<rect x="19.41" y="434.0" width="2.2" height="1.0" fill="#82920c" stroke="#111" stroke-width="0.65"/>
<rect x="22.90" y="429.5" width="2.2" height="4.5" fill="#82920c" stroke="#111" stroke-width="0.65"/>
<rect x="26.38" y="428.0" width="2.2" height="2.0" fill="#82920c" stroke="#111" stroke-width="0.65"/>
<rect x="29.86" y="424.6" width="2.2" height="3.4" fill="#82920c" stroke="#111" stroke-width="0.65"/>
<rect x="33.35" y="411.7" width="2.2" height="12.9" fill="#82920c" stroke="#111" stroke-width="0.65"/>
<rect x="36.83" y="401.4" width="2.2" height="9.6" fill="#82920c" stroke="#111" stroke-width="0.65"/>
<rect x="40.31" y="401.0" width="2.2" height="1.0" fill="#82920c" stroke="#111" stroke-width="0.65"/>
<rect x="43.80" y="395.4" width="2.2" height="5.1" fill="#82920c" stroke="#111" stroke-width="0.65"/>
<rect x="47.28" y="396.0" width="2.2" height="2.0" fill="#a8380e" stroke="#111" stroke-width="0.65"/>
<rect x="50.76" y="390.0" width="2.2" height="8.0" fill="#82920c" stroke="#111" stroke-width="0.65"/>
<rect x="54.25" y="387.6" width="2.2" height="3.4" fill="#82920c" stroke="#111" stroke-width="0.65"/>
<rect x="57.73" y="372.0" width="2.2" height="15.6" fill="#82920c" stroke="#111" stroke-width="0.65"/>
<rect x="61.21" y="368.4" width="2.2" height="3.6" fill="#82920c" stroke="#111" stroke-width="0.65"/>
<rect x="64.69" y="355.0" width="2.2" height="13.9" fill="#82920c" stroke="#111" stroke-width="0.65"/>
<rect x="68.18" y="355.9" width="2.2" height="2.1" fill="#a8380e" stroke="#111" stroke-width="0.65"/>
<rect x="71.66" y="338.4" width="2.2" height="21.1" fill="#82920c" stroke="#111" stroke-width="0.65"/>
<rect x="75.14" y="338.4" width="2.2" height="11.2" fill="#a8380e" stroke="#111" stroke-width="0.65"/>
<rect x="78.63" y="349.6" width="2.2" height="11.2" fill="#a8380e" stroke="#111" stroke-width="0.65"/>
<rect x="82.11" y="360.8" width="2.2" height="1.8" fill="#a8380e" stroke="#111" stroke-width="0.65"/>
<rect x="85.59" y="353.0" width="2.2" height="10.0" fill="#82920c" stroke="#111" stroke-width="0.65"/>
<rect x="89.08" y="350.5" width="2.2" height="1.8" fill="#82920c" stroke="#111" stroke-width="0.65"/>
<rect x="92.56" y="341.0" width="2.2" height="9.5" fill="#82920c" stroke="#111" stroke-width="0.65"/>
<rect x="96.04" y="338.8" width="2.2" height="2.7" fill="#82920c" stroke="#111" stroke-width="0.65"/>
<rect x="99.52" y="337.5" width="2.2" height="1.8" fill="#82920c" stroke="#111" stroke-width="0.65"/>
<rect x="103.01" y="334.3" width="2.2" height="2.7" fill="#82920c" stroke="#111" stroke-width="0.65"/>
<rect x="106.49" y="321.8" width="2.2" height="14.2" fill="#82920c" stroke="#111" stroke-width="0.65"/>
<rect x="109.97" y="321.0" width="2.2" height="1.0" fill="#82920c" stroke="#111" stroke-width="0.65"/>
<rect x="113.46" y="318.0" width="2.2" height="3.7" fill="#82920c" stroke="#111" stroke-width="0.65"/>
<rect x="116.94" y="314.0" width="2.2" height="5.5" fill="#82920c" stroke="#111" stroke-width="0.65"/>
<rect x="120.42" y="309.8" width="2.2" height="6.7" fill="#82920c" stroke="#111" stroke-width="0.65"/>
<rect x="123.91" y="303.8" width="2.2" height="6.0" fill="#82920c" stroke="#111" stroke-width="0.65"/>
<rect x="127.39" y="281.4" width="2.2" height="21.6" fill="#82920c" stroke="#111" stroke-width="0.65"/>
<rect x="130.87" y="282.0" width="2.2" height="11.3" fill="#a8380e" stroke="#111" stroke-width="0.65"/>
<rect x="134.35" y="287.4" width="2.2" height="6.6" fill="#82920c" stroke="#111" stroke-width="0.65"/>
<rect x="137.84" y="284.5" width="2.2" height="2.5" fill="#82920c" stroke="#111" stroke-width="0.65"/>
<rect x="141.32" y="286.0" width="2.2" height="4.4" fill="#a8380e" stroke="#111" stroke-width="0.65"/>
<rect x="144.80" y="289.6" width="2.2" height="12.0" fill="#a8380e" stroke="#111" stroke-width="0.65"/>
<rect x="148.29" y="287.4" width="2.2" height="13.4" fill="#82920c" stroke="#111" stroke-width="0.65"/>
<rect x="151.77" y="260.7" width="2.2" height="27.3" fill="#82920c" stroke="#111" stroke-width="0.65"/>
<rect x="155.25" y="260.7" width="2.2" height="10.5" fill="#a8380e" stroke="#111" stroke-width="0.65"/>
<rect x="158.74" y="267.5" width="2.2" height="5.2" fill="#82920c" stroke="#111" stroke-width="0.65"/>
<rect x="162.22" y="268.0" width="2.2" height="1.0" fill="#82920c" stroke="#111" stroke-width="0.65"/>
<rect x="165.70" y="268.0" width="2.2" height="11.5" fill="#a8380e" stroke="#111" stroke-width="0.65"/>
<rect x="169.18" y="267.5" width="2.2" height="13.6" fill="#82920c" stroke="#111" stroke-width="0.65"/>
<rect x="172.67" y="263.3" width="2.2" height="4.7" fill="#82920c" stroke="#111" stroke-width="0.65"/>
<rect x="176.15" y="264.4" width="2.2" height="1.6" fill="#a8380e" stroke="#111" stroke-width="0.65"/>
<rect x="179.63" y="265.4" width="2.2" height="1.0" fill="#82920c" stroke="#111" stroke-width="0.65"/>
<rect x="183.12" y="265.4" width="2.2" height="4.7" fill="#a8380e" stroke="#111" stroke-width="0.65"/>
<rect x="186.60" y="270.6" width="2.2" height="17.3" fill="#a8380e" stroke="#111" stroke-width="0.65"/>
<rect x="190.08" y="278.5" width="2.2" height="11.0" fill="#82920c" stroke="#111" stroke-width="0.65"/>
<rect x="193.56" y="278.0" width="2.2" height="1.0" fill="#82920c" stroke="#111" stroke-width="0.65"/>
<rect x="197.05" y="276.4" width="2.2" height="3.6" fill="#82920c" stroke="#111" stroke-width="0.65"/>
<rect x="200.53" y="277.0" width="2.2" height="12.5" fill="#a8380e" stroke="#111" stroke-width="0.65"/>
<rect x="204.01" y="289.5" width="2.2" height="4.7" fill="#a8380e" stroke="#111" stroke-width="0.65"/>
<rect x="207.50" y="293.2" width="2.2" height="1.0" fill="#82920c" stroke="#111" stroke-width="0.65"/>
<rect x="210.98" y="292.6" width="2.2" height="1.0" fill="#82920c" stroke="#111" stroke-width="0.65"/>
<rect x="214.46" y="293.2" width="2.2" height="12.0" fill="#a8380e" stroke="#111" stroke-width="0.65"/>
<rect x="217.95" y="300.0" width="2.2" height="5.7" fill="#82920c" stroke="#111" stroke-width="0.65"/>
<rect x="221.43" y="300.5" width="2.2" height="1.5" fill="#a8380e" stroke="#111" stroke-width="0.65"/>
<rect x="224.91" y="302.0" width="2.2" height="1.0" fill="#82920c" stroke="#111" stroke-width="0.65"/>
<rect x="228.40" y="297.3" width="2.2" height="5.3" fill="#82920c" stroke="#111" stroke-width="0.65"/>
<rect x="231.88" y="284.8" width="2.2" height="11.5" fill="#82920c" stroke="#111" stroke-width="0.65"/>
<rect x="235.36" y="268.5" width="2.2" height="16.4" fill="#82920c" stroke="#111" stroke-width="0.65"/>
<rect x="238.84" y="268.5" width="2.2" height="3.0" fill="#a8380e" stroke="#111" stroke-width="0.65"/>
<rect x="242.33" y="260.3" width="2.2" height="11.2" fill="#82920c" stroke="#111" stroke-width="0.65"/>
<rect x="245.81" y="247.6" width="2.2" height="11.9" fill="#82920c" stroke="#111" stroke-width="0.65"/>
<rect x="249.29" y="240.8" width="2.2" height="7.5" fill="#82920c" stroke="#111" stroke-width="0.65"/>
<rect x="252.78" y="222.1" width="2.2" height="17.9" fill="#82920c" stroke="#111" stroke-width="0.65"/>
<rect x="256.26" y="220.6" width="2.2" height="1.4" fill="#82920c" stroke="#111" stroke-width="0.65"/>
<rect x="259.74" y="220.6" width="2.2" height="1.0" fill="#82920c" stroke="#111" stroke-width="0.65"/>
<rect x="263.23" y="220.4" width="2.2" height="1.0" fill="#82920c" stroke="#111" stroke-width="0.65"/>
<rect x="266.71" y="208.7" width="2.2" height="12.7" fill="#82920c" stroke="#111" stroke-width="0.65"/>
<rect x="270.19" y="208.0" width="2.2" height="18.6" fill="#a8380e" stroke="#111" stroke-width="0.65"/>
<rect x="273.67" y="226.6" width="2.2" height="18.7" fill="#a8380e" stroke="#111" stroke-width="0.65"/>
<rect x="277.16" y="214.0" width="2.2" height="31.3" fill="#82920c" stroke="#111" stroke-width="0.65"/>
<rect x="280.64" y="212.4" width="2.2" height="1.6" fill="#82920c" stroke="#111" stroke-width="0.65"/>
<rect x="284.12" y="195.2" width="2.2" height="18.8" fill="#82920c" stroke="#111" stroke-width="0.65"/>
<rect x="287.61" y="195.2" width="2.2" height="3.8" fill="#a8380e" stroke="#111" stroke-width="0.65"/>
<rect x="291.09" y="199.7" width="2.2" height="14.3" fill="#a8380e" stroke="#111" stroke-width="0.65"/>
<rect x="294.57" y="211.7" width="2.2" height="2.3" fill="#82920c" stroke="#111" stroke-width="0.65"/>
<rect x="298.06" y="208.7" width="2.2" height="3.7" fill="#82920c" stroke="#111" stroke-width="0.65"/>
<rect x="301.54" y="201.2" width="2.2" height="7.5" fill="#82920c" stroke="#111" stroke-width="0.65"/>
<rect x="305.02" y="196.7" width="2.2" height="4.5" fill="#82920c" stroke="#111" stroke-width="0.65"/>
<rect x="308.50" y="196.7" width="2.2" height="9.0" fill="#a8380e" stroke="#111" stroke-width="0.65"/>
<rect x="311.99" y="205.7" width="2.2" height="5.3" fill="#a8380e" stroke="#111" stroke-width="0.65"/>
<rect x="315.47" y="207.2" width="2.2" height="3.0" fill="#82920c" stroke="#111" stroke-width="0.65"/>
<rect x="318.95" y="204.0" width="2.2" height="2.3" fill="#82920c" stroke="#111" stroke-width="0.65"/>
<rect x="322.44" y="203.2" width="2.2" height="1.0" fill="#82920c" stroke="#111" stroke-width="0.65"/>
<rect x="325.92" y="202.4" width="2.2" height="1.0" fill="#82920c" stroke="#111" stroke-width="0.65"/>
<rect x="329.40" y="201.4" width="2.2" height="1.0" fill="#82920c" stroke="#111" stroke-width="0.65"/>
<rect x="332.88" y="186.9" width="2.2" height="15.0" fill="#82920c" stroke="#111" stroke-width="0.65"/>
<rect x="336.37" y="186.9" width="2.2" height="6.0" fill="#a8380e" stroke="#111" stroke-width="0.65"/>
<rect x="339.85" y="186.9" width="2.2" height="5.2" fill="#82920c" stroke="#111" stroke-width="0.65"/>
<rect x="343.33" y="169.7" width="2.2" height="18.0" fill="#82920c" stroke="#111" stroke-width="0.65"/>
<rect x="346.82" y="169.7" width="2.2" height="5.3" fill="#a8380e" stroke="#111" stroke-width="0.65"/>
<rect x="350.30" y="174.2" width="2.2" height="4.5" fill="#a8380e" stroke="#111" stroke-width="0.65"/>
<rect x="353.78" y="177.8" width="2.2" height="1.0" fill="#82920c" stroke="#111" stroke-width="0.65"/>
<rect x="357.27" y="177.4" width="2.2" height="1.0" fill="#82920c" stroke="#111" stroke-width="0.65"/>
<rect x="360.75" y="177.2" width="2.2" height="10.5" fill="#a8380e" stroke="#111" stroke-width="0.65"/>
<rect x="364.23" y="187.7" width="2.2" height="13.4" fill="#a8380e" stroke="#111" stroke-width="0.65"/>
<rect x="367.72" y="195.1" width="2.2" height="6.0" fill="#82920c" stroke="#111" stroke-width="0.65"/>
<rect x="371.20" y="192.9" width="2.2" height="2.2" fill="#82920c" stroke="#111" stroke-width="0.65"/>
<rect x="374.68" y="192.1" width="2.2" height="3.8" fill="#a8380e" stroke="#111" stroke-width="0.65"/>
<rect x="378.16" y="195.9" width="2.2" height="25.4" fill="#a8380e" stroke="#111" stroke-width="0.65"/>
<rect x="381.65" y="221.3" width="2.2" height="12.0" fill="#a8380e" stroke="#111" stroke-width="0.65"/>
<rect x="385.13" y="233.3" width="2.2" height="18.7" fill="#a8380e" stroke="#111" stroke-width="0.65"/>
<rect x="388.61" y="234.8" width="2.2" height="17.2" fill="#82920c" stroke="#111" stroke-width="0.65"/>
<rect x="392.10" y="227.3" width="2.2" height="7.5" fill="#82920c" stroke="#111" stroke-width="0.65"/>
<rect x="395.58" y="227.3" width="2.2" height="10.4" fill="#a8380e" stroke="#111" stroke-width="0.65"/>
<rect x="399.06" y="216.8" width="2.2" height="22.4" fill="#82920c" stroke="#111" stroke-width="0.65"/>
<rect x="402.55" y="213.0" width="2.2" height="1.0" fill="#82920c" stroke="#111" stroke-width="0.65"/>
<rect x="406.03" y="214.5" width="2.2" height="1.0" fill="#82920c" stroke="#111" stroke-width="0.65"/>
<rect x="409.51" y="213.2" width="2.2" height="23.8" fill="#a8380e" stroke="#111" stroke-width="0.65"/>
<rect x="412.99" y="236.3" width="2.2" height="1.0" fill="#82920c" stroke="#111" stroke-width="0.65"/>
<rect x="416.48" y="230.5" width="2.2" height="6.0" fill="#82920c" stroke="#111" stroke-width="0.65"/>
<rect x="419.96" y="231.0" width="2.2" height="1.3" fill="#a8380e" stroke="#111" stroke-width="0.65"/>
<rect x="423.44" y="222.0" width="2.2" height="10.3" fill="#82920c" stroke="#111" stroke-width="0.65"/>
<rect x="426.93" y="212.6" width="2.2" height="9.4" fill="#82920c" stroke="#111" stroke-width="0.65"/>
<rect x="430.41" y="204.5" width="2.2" height="8.2" fill="#82920c" stroke="#111" stroke-width="0.65"/>
<rect x="433.89" y="192.5" width="2.2" height="12.0" fill="#82920c" stroke="#111" stroke-width="0.65"/>
<rect x="437.38" y="185.8" width="2.2" height="7.4" fill="#82920c" stroke="#111" stroke-width="0.65"/>
<rect x="440.86" y="185.8" width="2.2" height="7.4" fill="#a8380e" stroke="#111" stroke-width="0.65"/>
<rect x="444.34" y="190.3" width="2.2" height="2.9" fill="#82920c" stroke="#111" stroke-width="0.65"/>
<rect x="447.82" y="190.3" width="2.2" height="6.7" fill="#a8380e" stroke="#111" stroke-width="0.65"/>
<rect x="451.31" y="185.8" width="2.2" height="11.2" fill="#82920c" stroke="#111" stroke-width="0.65"/>
<rect x="454.79" y="171.6" width="2.2" height="12.7" fill="#82920c" stroke="#111" stroke-width="0.65"/>
<rect x="458.27" y="171.6" width="2.2" height="1.0" fill="#82920c" stroke="#111" stroke-width="0.65"/>
<rect x="461.76" y="170.0" width="2.2" height="1.0" fill="#82920c" stroke="#111" stroke-width="0.65"/>
<rect x="465.24" y="155.9" width="2.2" height="14.9" fill="#82920c" stroke="#111" stroke-width="0.65"/>
<rect x="468.72" y="155.1" width="2.2" height="1.0" fill="#82920c" stroke="#111" stroke-width="0.65"/>
<rect x="472.21" y="150.6" width="2.2" height="5.3" fill="#82920c" stroke="#111" stroke-width="0.65"/>
<rect x="475.69" y="126.0" width="2.2" height="26.1" fill="#82920c" stroke="#111" stroke-width="0.65"/>
<rect x="479.17" y="116.0" width="2.2" height="11.3" fill="#82920c" stroke="#111" stroke-width="0.65"/>
<rect x="482.65" y="111.6" width="2.2" height="4.4" fill="#82920c" stroke="#111" stroke-width="0.65"/>
<rect x="486.14" y="111.6" width="2.2" height="17.2" fill="#a8380e" stroke="#111" stroke-width="0.65"/>
<rect x="489.62" y="126.5" width="2.2" height="7.5" fill="#82920c" stroke="#111" stroke-width="0.65"/>
<rect x="493.10" y="106.3" width="2.2" height="20.2" fill="#82920c" stroke="#111" stroke-width="0.65"/>
<rect x="496.59" y="106.3" width="2.2" height="16.5" fill="#a8380e" stroke="#111" stroke-width="0.65"/>
<rect x="500.07" y="119.0" width="2.2" height="3.8" fill="#82920c" stroke="#111" stroke-width="0.65"/>
<rect x="503.55" y="118.3" width="2.2" height="6.0" fill="#a8380e" stroke="#111" stroke-width="0.65"/>
<rect x="507.04" y="122.8" width="2.2" height="3.0" fill="#82920c" stroke="#111" stroke-width="0.65"/>
<rect x="510.52" y="116.0" width="2.2" height="6.0" fill="#82920c" stroke="#111" stroke-width="0.65"/>
<rect x="514.00" y="111.6" width="2.2" height="4.4" fill="#82920c" stroke="#111" stroke-width="0.65"/>
<rect x="517.48" y="112.3" width="2.2" height="18.7" fill="#a8380e" stroke="#111" stroke-width="0.65"/>
<rect x="520.97" y="119.8" width="2.2" height="12.0" fill="#82920c" stroke="#111" stroke-width="0.65"/>
<rect x="524.45" y="104.8" width="2.2" height="12.0" fill="#82920c" stroke="#111" stroke-width="0.65"/>
<rect x="527.93" y="104.1" width="2.2" height="1.0" fill="#82920c" stroke="#111" stroke-width="0.65"/>
<rect x="531.42" y="104.1" width="2.2" height="5.9" fill="#a8380e" stroke="#111" stroke-width="0.65"/>
<rect x="534.90" y="108.6" width="2.2" height="3.0" fill="#82920c" stroke="#111" stroke-width="0.65"/>
<rect x="538.38" y="104.8" width="2.2" height="3.0" fill="#82920c" stroke="#111" stroke-width="0.65"/>
<rect x="541.87" y="105.6" width="2.2" height="1.4" fill="#a8380e" stroke="#111" stroke-width="0.65"/>
<rect x="545.35" y="107.8" width="2.2" height="3.0" fill="#a8380e" stroke="#111" stroke-width="0.65"/>
<rect x="548.83" y="106.3" width="2.2" height="4.5" fill="#82920c" stroke="#111" stroke-width="0.65"/>
<rect x="552.31" y="100.4" width="2.2" height="5.2" fill="#82920c" stroke="#111" stroke-width="0.65"/>
<rect x="555.80" y="97.7" width="2.2" height="3.0" fill="#82920c" stroke="#111" stroke-width="0.65"/>
<rect x="559.28" y="93.2" width="2.2" height="5.3" fill="#82920c" stroke="#111" stroke-width="0.65"/>
<rect x="562.76" y="92.5" width="2.2" height="1.5" fill="#82920c" stroke="#111" stroke-width="0.65"/>
<rect x="566.25" y="79.8" width="2.2" height="14.2" fill="#82920c" stroke="#111" stroke-width="0.65"/>
<rect x="569.73" y="77.6" width="2.2" height="2.2" fill="#82920c" stroke="#111" stroke-width="0.65"/>
<rect x="573.21" y="59.6" width="2.2" height="19.4" fill="#82920c" stroke="#111" stroke-width="0.65"/>
<rect x="576.70" y="56.6" width="2.2" height="6.0" fill="#82920c" stroke="#111" stroke-width="0.65"/>
<rect x="580.18" y="53.6" width="2.2" height="3.0" fill="#82920c" stroke="#111" stroke-width="0.65"/>
<rect x="583.66" y="47.7" width="2.2" height="7.4" fill="#82920c" stroke="#111" stroke-width="0.65"/>
<rect x="587.14" y="45.4" width="2.2" height="2.3" fill="#82920c" stroke="#111" stroke-width="0.65"/>
<rect x="590.63" y="44.7" width="2.2" height="26.9" fill="#a8380e" stroke="#111" stroke-width="0.65"/>
<rect x="594.11" y="58.1" width="2.2" height="13.5" fill="#82920c" stroke="#111" stroke-width="0.65"/>
<rect x="597.59" y="59.6" width="2.2" height="9.7" fill="#a8380e" stroke="#111" stroke-width="0.65"/>
<rect x="601.08" y="68.6" width="2.2" height="18.7" fill="#a8380e" stroke="#111" stroke-width="0.65"/>
<rect x="604.56" y="87.3" width="2.2" height="1.0" fill="#82920c" stroke="#111" stroke-width="0.65"/>
<rect x="608.04" y="74.6" width="2.2" height="14.9" fill="#82920c" stroke="#111" stroke-width="0.65"/>
<rect x="611.52" y="59.6" width="2.2" height="12.7" fill="#82920c" stroke="#111" stroke-width="0.65"/>
<rect x="615.01" y="59.6" width="2.2" height="6.0" fill="#a8380e" stroke="#111" stroke-width="0.65"/>
<rect x="618.49" y="65.6" width="2.2" height="4.5" fill="#a8380e" stroke="#111" stroke-width="0.65"/>
<rect x="621.97" y="67.1" width="2.2" height="3.0" fill="#82920c" stroke="#111" stroke-width="0.65"/>
<rect x="625.46" y="65.6" width="2.2" height="17.9" fill="#a8380e" stroke="#111" stroke-width="0.65"/>
<rect x="628.94" y="79.4" width="2.2" height="5.3" fill="#a8380e" stroke="#111" stroke-width="0.65"/>
<rect x="632.42" y="83.9" width="2.2" height="10.5" fill="#a8380e" stroke="#111" stroke-width="0.65"/>
<rect x="635.91" y="86.9" width="2.2" height="7.5" fill="#82920c" stroke="#111" stroke-width="0.65"/>
<rect x="639.39" y="86.9" width="2.2" height="60.5" fill="#a8380e" stroke="#111" stroke-width="0.65"/>
<rect x="642.87" y="147.4" width="2.2" height="24.7" fill="#a8380e" stroke="#111" stroke-width="0.65"/>
<rect x="646.36" y="158.6" width="2.2" height="8.3" fill="#82920c" stroke="#111" stroke-width="0.65"/>
<rect x="649.84" y="158.6" width="2.2" height="6.8" fill="#a8380e" stroke="#111" stroke-width="0.65"/>
<rect x="653.32" y="163.9" width="2.2" height="1.0" fill="#82920c" stroke="#111" stroke-width="0.65"/>
<rect x="656.80" y="155.6" width="2.2" height="6.8" fill="#82920c" stroke="#111" stroke-width="0.65"/>
<rect x="660.29" y="153.4" width="2.2" height="2.2" fill="#82920c" stroke="#111" stroke-width="0.65"/>
<rect x="663.77" y="133.2" width="2.2" height="21.7" fill="#82920c" stroke="#111" stroke-width="0.65"/>
<rect x="667.25" y="134.7" width="2.2" height="9.0" fill="#a8380e" stroke="#111" stroke-width="0.65"/>
<rect x="670.74" y="143.7" width="2.2" height="18.7" fill="#a8380e" stroke="#111" stroke-width="0.65"/>
<rect x="674.22" y="162.4" width="2.2" height="11.2" fill="#a8380e" stroke="#111" stroke-width="0.65"/>
<rect x="677.70" y="167.6" width="2.2" height="7.5" fill="#82920c" stroke="#111" stroke-width="0.65"/>
<rect x="681.19" y="164.6" width="2.2" height="4.5" fill="#a8380e" stroke="#111" stroke-width="0.65"/>
<rect x="684.67" y="170.6" width="2.2" height="1.5" fill="#a8380e" stroke="#111" stroke-width="0.65"/>
<rect x="688.15" y="172.8" width="2.2" height="6.0" fill="#a8380e" stroke="#111" stroke-width="0.65"/>
<rect x="691.63" y="180.3" width="2.2" height="30.1" fill="#a8380e" stroke="#111" stroke-width="0.65"/>
<rect x="695.12" y="210.4" width="2.2" height="4.4" fill="#a8380e" stroke="#111" stroke-width="0.65"/>
<rect x="698.60" y="193.2" width="2.2" height="21.6" fill="#82920c" stroke="#111" stroke-width="0.65"/>
<rect x="702.08" y="191.0" width="2.2" height="3.7" fill="#82920c" stroke="#111" stroke-width="0.65"/>
<rect x="705.57" y="192.4" width="2.2" height="3.0" fill="#a8380e" stroke="#111" stroke-width="0.65"/>
<rect x="709.05" y="193.2" width="2.2" height="1.0" fill="#82920c" stroke="#111" stroke-width="0.65"/>
<rect x="712.53" y="194.7" width="2.2" height="2.2" fill="#a8380e" stroke="#111" stroke-width="0.65"/>
<rect x="716.01" y="182.7" width="2.2" height="15.0" fill="#82920c" stroke="#111" stroke-width="0.65"/>
<rect x="719.50" y="183.5" width="2.2" height="23.1" fill="#a8380e" stroke="#111" stroke-width="0.65"/>
<rect x="722.98" y="207.4" width="2.2" height="1.0" fill="#82920c" stroke="#111" stroke-width="0.65"/>
<rect x="726.46" y="182.7" width="2.2" height="23.2" fill="#82920c" stroke="#111" stroke-width="0.65"/>
<rect x="729.95" y="182.0" width="2.2" height="8.9" fill="#a8380e" stroke="#111" stroke-width="0.65"/>
<rect x="733.43" y="192.4" width="2.2" height="10.5" fill="#82920c" stroke="#111" stroke-width="0.65"/>
<rect x="736.91" y="192.4" width="2.2" height="58.3" fill="#a8380e" stroke="#111" stroke-width="0.65"/>
<rect x="740.40" y="242.5" width="2.2" height="9.0" fill="#82920c" stroke="#111" stroke-width="0.65"/>
<rect x="743.88" y="242.5" width="2.2" height="1.0" fill="#82920c" stroke="#111" stroke-width="0.65"/>
<rect x="747.36" y="238.0" width="2.2" height="5.2" fill="#82920c" stroke="#111" stroke-width="0.65"/>
<rect x="750.85" y="237.3" width="2.2" height="1.0" fill="#82920c" stroke="#111" stroke-width="0.65"/>
<rect x="754.33" y="230.5" width="2.2" height="6.8" fill="#82920c" stroke="#111" stroke-width="0.65"/>
<rect x="757.81" y="220.8" width="2.2" height="10.5" fill="#82920c" stroke="#111" stroke-width="0.65"/>
<rect x="761.29" y="220.0" width="2.2" height="16.5" fill="#a8380e" stroke="#111" stroke-width="0.65"/>
<rect x="764.78" y="236.5" width="2.2" height="23.6" fill="#a8380e" stroke="#111" stroke-width="0.65"/>
<rect x="768.26" y="260.1" width="2.2" height="2.7" fill="#a8380e" stroke="#111" stroke-width="0.65"/>
<rect x="771.74" y="258.3" width="2.2" height="3.6" fill="#82920c" stroke="#111" stroke-width="0.65"/>
<rect x="775.23" y="240.4" width="2.2" height="17.9" fill="#82920c" stroke="#111" stroke-width="0.65"/>
<rect x="778.71" y="232.3" width="2.2" height="8.1" fill="#82920c" stroke="#111" stroke-width="0.65"/>
<rect x="782.19" y="232.3" width="2.2" height="14.3" fill="#a8380e" stroke="#111" stroke-width="0.65"/>
<rect x="785.68" y="248.2" width="2.2" height="1.0" fill="#82920c" stroke="#111" stroke-width="0.65"/>
<rect x="789.16" y="245.7" width="2.2" height="4.5" fill="#82920c" stroke="#111" stroke-width="0.65"/>
<rect x="792.64" y="242.2" width="2.2" height="2.6" fill="#82920c" stroke="#111" stroke-width="0.65"/>
<rect x="796.12" y="242.2" width="2.2" height="35.8" fill="#a8380e" stroke="#111" stroke-width="0.65"/>
<rect x="799.61" y="278.0" width="2.2" height="13.5" fill="#a8380e" stroke="#111" stroke-width="0.65"/>
<rect x="803.09" y="286.1" width="2.2" height="8.1" fill="#82920c" stroke="#111" stroke-width="0.65"/>
<rect x="806.57" y="284.1" width="2.2" height="1.0" fill="#82920c" stroke="#111" stroke-width="0.65"/>
</g>
<g clip-path="url(#cd)">
<path d="M1.36 494.55h3.483v0.00h-3.483zM4.84 494.44h3.483v0.11h-3.483zM8.32 493.97h3.483v0.58h-3.483zM11.81 493.54h3.483v1.01h-3.483zM15.29 494.00h3.483v0.55h-3.483zM18.77 494.04h3.483v0.51h-3.483zM22.26 493.56h3.483v0.99h-3.483zM25.74 493.03h3.483v1.52h-3.483zM29.22 492.26h3.483v2.29h-3.483zM32.71 490.23h3.483v4.32h-3.483zM36.19 487.53h3.483v7.02h-3.483zM39.67 485.46h3.483v9.09h-3.483zM43.15 483.31h3.483v11.24h-3.483zM46.64 482.04h3.483v12.51h-3.483zM50.12 480.29h3.483v14.26h-3.483zM53.60 478.82h3.483v15.73h-3.483zM57.09 476.10h3.483v18.45h-3.483zM60.57 473.77h3.483v20.78h-3.483zM64.05 470.68h3.483v23.87h-3.483zM67.54 468.87h3.483v25.68h-3.483zM71.02 465.54h3.483v29.01h-3.483zM74.50 464.53h3.483v30.02h-3.483zM77.98 465.33h3.483v29.22h-3.483zM81.47 466.49h3.483v28.06h-3.483zM84.95 466.64h3.483v27.91h-3.483zM88.43 466.80h3.483v27.75h-3.483zM91.92 466.18h3.483v28.37h-3.483zM95.40 465.76h3.483v28.79h-3.483zM98.88 465.62h3.483v28.93h-3.483zM102.37 465.48h3.483v29.07h-3.483zM105.85 464.30h3.483v30.25h-3.483zM109.33 463.63h3.483v30.92h-3.483zM112.81 463.13h3.483v31.42h-3.483zM116.30 462.64h3.483v31.91h-3.483zM119.78 462.15h3.483v32.40h-3.483zM123.26 461.46h3.483v33.09h-3.483zM126.75 458.79h3.483v35.76h-3.483zM130.23 458.44h3.483v36.11h-3.483zM133.71 457.91h3.483v36.64h-3.483zM137.20 457.59h3.483v36.96h-3.483zM140.68 458.43h3.483v36.12h-3.483zM144.16 460.75h3.483v33.80h-3.483zM147.64 461.36h3.483v33.19h-3.483zM151.13 459.22h3.483v35.33h-3.483zM154.61 459.13h3.483v35.42h-3.483zM158.09 459.04h3.483v35.51h-3.483zM161.58 459.44h3.483v35.11h-3.483zM165.06 461.43h3.483v33.12h-3.483zM168.54 462.03h3.483v32.52h-3.483zM172.03 462.40h3.483v32.15h-3.483zM175.51 463.36h3.483v31.19h-3.483zM178.99 464.40h3.483v30.15h-3.483zM182.47 466.08h3.483v28.47h-3.483zM185.96 469.72h3.483v24.83h-3.483zM189.44 471.80h3.483v22.75h-3.483zM192.92 473.63h3.483v20.92h-3.483zM196.41 475.13h3.483v19.42h-3.483zM199.89 477.99h3.483v16.56h-3.483zM203.37 480.95h3.483v13.60h-3.483zM206.86 483.31h3.483v11.24h-3.483zM210.34 485.22h3.483v9.33h-3.483zM213.82 488.23h3.483v6.32h-3.483zM217.30 490.08h3.483v4.47h-3.483zM220.79 491.81h3.483v2.74h-3.483zM224.27 493.19h3.483v1.36h-3.483zM227.75 493.76h3.483v0.79h-3.483zM231.24 492.82h3.483v1.73h-3.483zM234.72 490.27h3.483v4.28h-3.483zM238.20 488.66h3.483v5.89h-3.483zM241.69 486.21h3.483v8.34h-3.483zM245.17 482.96h3.483v11.59h-3.483zM248.65 479.79h3.483v14.76h-3.483zM252.13 475.37h3.483v19.18h-3.483zM255.62 471.97h3.483v22.58h-3.483zM259.10 469.55h3.483v25.00h-3.483zM262.58 467.92h3.483v26.63h-3.483zM266.07 465.64h3.483v28.91h-3.483zM269.55 466.19h3.483v28.36h-3.483zM273.03 469.03h3.483v25.52h-3.483zM276.52 468.05h3.483v26.50h-3.483zM280.00 467.40h3.483v27.15h-3.483zM283.48 465.27h3.483v29.28h-3.483zM286.96 464.36h3.483v30.19h-3.483zM290.45 465.68h3.483v28.87h-3.483zM293.93 466.78h3.483v27.77h-3.483zM297.41 467.62h3.483v26.93h-3.483zM300.90 467.75h3.483v26.80h-3.483zM304.38 467.65h3.483v26.90h-3.483zM307.86 468.88h3.483v25.67h-3.483zM311.35 470.74h3.483v23.81h-3.483zM314.83 472.04h3.483v22.51h-3.483zM318.31 472.95h3.483v21.60h-3.483zM321.79 473.83h3.483v20.72h-3.483zM325.28 474.66h3.483v19.89h-3.483zM328.76 475.43h3.483v19.12h-3.483zM332.24 474.62h3.483v19.93h-3.483zM335.73 474.89h3.483v19.66h-3.483zM339.21 474.65h3.483v19.90h-3.483zM342.69 472.76h3.483v21.79h-3.483zM346.18 472.12h3.483v22.43h-3.483zM349.66 472.29h3.483v22.26h-3.483zM353.14 472.58h3.483v21.97h-3.483zM356.62 473.01h3.483v21.54h-3.483zM360.11 474.75h3.483v19.80h-3.483zM363.59 477.84h3.483v16.71h-3.483zM367.07 479.77h3.483v14.78h-3.483zM370.56 481.21h3.483v13.34h-3.483zM374.04 482.83h3.483v11.72h-3.483zM377.52 487.08h3.483v7.47h-3.483zM381.01 491.83h3.483v2.72h-3.483zM384.49 494.55h3.483v3.14h-3.483zM387.97 494.55h3.483v5.76h-3.483zM391.45 494.55h3.483v6.91h-3.483zM394.94 494.55h3.483v8.90h-3.483zM398.42 494.55h3.483v8.01h-3.483zM401.90 494.55h3.483v6.80h-3.483zM405.39 494.55h3.483v5.94h-3.483zM408.87 494.55h3.483v7.72h-3.483zM412.35 494.55h3.483v8.95h-3.483zM415.84 494.55h3.483v9.16h-3.483zM419.32 494.55h3.483v9.42h-3.483zM422.80 494.55h3.483v8.37h-3.483zM426.28 494.55h3.483v6.39h-3.483zM429.77 494.55h3.483v3.86h-3.483zM433.25 494.55h3.483v0.49h-3.483zM436.73 491.64h3.483v2.91h-3.483zM440.22 489.84h3.483v4.71h-3.483zM443.70 488.16h3.483v6.39h-3.483zM447.18 487.67h3.483v6.88h-3.483zM450.67 486.11h3.483v8.44h-3.483zM454.15 483.39h3.483v11.16h-3.483zM457.63 481.38h3.483v13.17h-3.483zM461.11 479.78h3.483v14.77h-3.483zM464.60 477.12h3.483v17.43h-3.483zM468.08 475.14h3.483v19.41h-3.483zM471.56 473.30h3.483v21.25h-3.483zM475.05 469.35h3.483v25.20h-3.483zM478.53 465.42h3.483v29.13h-3.483zM482.01 462.18h3.483v32.37h-3.483zM485.50 461.94h3.483v32.61h-3.483zM488.98 461.86h3.483v32.69h-3.483zM492.46 459.91h3.483v34.64h-3.483zM495.94 460.63h3.483v33.92h-3.483zM499.43 461.15h3.483v33.40h-3.483zM502.91 462.53h3.483v32.02h-3.483zM506.39 463.81h3.483v30.74h-3.483zM509.88 464.40h3.483v30.15h-3.483zM513.36 464.72h3.483v29.83h-3.483zM516.84 467.48h3.483v27.07h-3.483zM520.33 468.69h3.483v25.86h-3.483zM523.81 468.26h3.483v26.29h-3.483zM527.29 468.14h3.483v26.41h-3.483zM530.77 469.01h3.483v25.54h-3.483zM534.26 469.82h3.483v24.73h-3.483zM537.74 470.32h3.483v24.23h-3.483zM541.22 471.23h3.483v23.32h-3.483zM544.71 472.63h3.483v21.92h-3.483zM548.19 473.48h3.483v21.07h-3.483zM551.67 473.72h3.483v20.83h-3.483zM555.16 473.85h3.483v20.70h-3.483zM558.64 473.67h3.483v20.88h-3.483zM562.12 473.70h3.483v20.85h-3.483zM565.60 472.53h3.483v22.02h-3.483zM569.09 471.62h3.483v22.93h-3.483zM572.57 469.15h3.483v25.40h-3.483zM576.05 467.17h3.483v27.38h-3.483zM579.54 465.60h3.483v28.95h-3.483zM583.02 464.03h3.483v30.52h-3.483zM586.50 462.89h3.483v31.66h-3.483zM589.99 465.30h3.483v29.25h-3.483zM593.47 466.01h3.483v28.54h-3.483zM596.95 468.14h3.483v26.41h-3.483zM600.43 472.13h3.483v22.42h-3.483zM603.92 475.51h3.483v19.04h-3.483zM607.40 476.95h3.483v17.60h-3.483zM610.88 476.60h3.483v17.95h-3.483zM614.37 477.21h3.483v17.34h-3.483zM617.85 478.38h3.483v16.17h-3.483zM621.33 479.15h3.483v15.40h-3.483zM624.82 481.76h3.483v12.79h-3.483zM628.30 484.09h3.483v10.46h-3.483zM631.78 487.12h3.483v7.43h-3.483zM635.26 488.74h3.483v5.81h-3.483zM638.75 494.55h3.483v2.31h-3.483zM642.23 494.55h3.483v11.41h-3.483zM645.71 494.55h3.483v16.90h-3.483zM649.20 494.55h3.483v21.77h-3.483zM652.68 494.55h3.483v25.16h-3.483zM656.16 494.55h3.483v26.61h-3.483zM659.65 494.55h3.483v27.19h-3.483zM663.13 494.55h3.483v25.07h-3.483zM666.61 494.55h3.483v24.31h-3.483zM670.09 494.55h3.483v25.52h-3.483zM673.58 494.55h3.483v27.44h-3.483zM677.06 494.55h3.483v27.96h-3.483zM680.54 494.55h3.483v28.21h-3.483zM684.03 494.55h3.483v28.43h-3.483zM687.51 494.55h3.483v29.02h-3.483zM690.99 494.55h3.483v32.70h-3.483zM694.48 494.55h3.483v35.70h-3.483zM697.96 494.55h3.483v35.23h-3.483zM701.44 494.55h3.483v34.21h-3.483zM704.92 494.55h3.483v33.51h-3.483zM708.41 494.55h3.483v32.34h-3.483zM711.89 494.55h3.483v31.46h-3.483zM715.37 494.55h3.483v28.83h-3.483zM718.86 494.55h3.483v29.11h-3.483zM722.34 494.55h3.483v29.09h-3.483zM725.82 494.55h3.483v25.98h-3.483zM729.31 494.55h3.483v24.16h-3.483zM732.79 494.55h3.483v22.63h-3.483zM736.27 494.55h3.483v27.71h-3.483zM739.75 494.55h3.483v30.45h-3.483zM743.24 494.55h3.483v32.26h-3.483zM746.72 494.55h3.483v32.80h-3.483zM750.20 494.55h3.483v32.77h-3.483zM753.69 494.55h3.483v31.61h-3.483zM757.17 494.55h3.483v29.25h-3.483zM760.65 494.55h3.483v28.83h-3.483zM764.14 494.55h3.483v30.82h-3.483zM767.62 494.55h3.483v32.33h-3.483zM771.10 494.55h3.483v32.64h-3.483zM774.58 494.55h3.483v30.51h-3.483zM778.07 494.55h3.483v27.58h-3.483zM781.55 494.55h3.483v26.57h-3.483zM785.03 494.55h3.483v25.66h-3.483zM788.52 494.55h3.483v24.37h-3.483zM792.00 494.55h3.483v22.69h-3.483zM795.48 494.55h3.483v25.13h-3.483zM798.97 494.55h3.483v28.27h-3.483zM802.45 494.55h3.483v29.80h-3.483zM805.93 494.55h3.483v30.44h-3.483z" fill="#000"/>
<line x1="2" y1="494.5" x2="830" y2="494.5" stroke="#000" stroke-width="1"/>
<polyline points="3.1,494.6 6.6,494.5 10.1,494.3 13.5,494.1 17.0,494.1 20.5,494.1 24.0,494.0 27.5,493.9 31.0,493.7 34.4,493.2 37.9,492.5 41.4,491.5 44.9,490.4 48.4,489.1 51.9,487.5 55.3,485.9 58.8,484.0 62.3,481.9 65.8,479.8 69.3,477.7 72.8,475.5 76.2,473.4 79.7,471.5 83.2,470.0 86.7,468.7 90.2,467.6 93.7,466.8 97.1,466.2 100.6,465.9 104.1,465.9 107.6,465.8 111.1,465.7 114.6,465.3 118.0,464.8 121.5,464.3 125.0,463.8 128.5,463.0 132.0,462.2 135.5,461.4 138.9,460.6 142.4,460.1 145.9,459.8 149.4,459.7 152.9,459.3 156.4,459.1 159.8,459.1 163.3,459.2 166.8,459.6 170.3,460.1 173.8,460.5 177.2,460.8 180.7,461.2 184.2,461.9 187.7,463.1 191.2,464.5 194.7,466.1 198.1,467.6 201.6,469.4 205.1,471.4 208.6,473.7 212.1,476.0 215.6,478.4 219.0,480.7 222.5,482.9 226.0,485.1 229.5,487.2 233.0,488.8 236.5,489.9 239.9,490.4 243.4,490.6 246.9,490.0 250.4,488.8 253.9,487.0 257.4,484.6 260.8,482.0 264.3,479.2 267.8,476.5 271.3,474.0 274.8,472.0 278.3,470.4 281.7,469.0 285.2,467.9 288.7,467.0 292.2,466.6 295.7,466.5 299.2,466.7 302.6,466.9 306.1,466.7 309.6,466.8 313.1,467.2 316.6,467.9 320.1,468.9 323.5,469.8 327.0,470.7 330.5,471.5 334.0,472.3 337.5,473.1 341.0,473.8 344.4,474.0 347.9,474.0 351.4,473.9 354.9,473.8 358.4,473.6 361.8,473.5 365.3,473.9 368.8,474.4 372.3,475.1 375.8,476.3 379.3,477.9 382.7,480.1 386.2,482.9 389.7,485.9 393.2,488.9 396.7,491.7 400.2,494.3 403.6,496.5 407.1,498.5 410.6,500.2 414.1,501.5 417.6,502.1 421.1,502.5 424.5,502.7 428.0,502.4 431.5,502.0 435.0,501.3 438.5,500.3 442.0,498.9 445.4,497.2 448.9,495.4 452.4,493.4 455.9,491.2 459.4,489.1 462.9,487.0 466.3,485.0 469.8,483.2 473.3,481.3 476.8,479.2 480.3,476.8 483.8,474.1 487.2,471.7 490.7,469.6 494.2,467.4 497.7,465.5 501.2,464.0 504.7,462.8 508.1,462.2 511.6,462.0 515.1,462.3 518.6,462.9 522.1,463.7 525.6,464.6 529.0,465.5 532.5,466.3 536.0,467.1 539.5,467.9 543.0,468.6 546.4,469.5 549.9,470.2 553.4,470.7 556.9,471.4 560.4,472.0 563.9,472.5 567.3,472.8 570.8,472.9 574.3,472.7 577.8,472.1 581.3,471.2 584.8,470.1 588.2,468.9 591.7,468.0 595.2,467.1 598.7,466.7 602.2,466.7 605.7,467.4 609.1,468.5 612.6,469.7 616.1,471.2 619.6,472.9 623.1,474.5 626.6,476.2 630.0,478.0 633.5,479.6 637.0,481.1 640.5,483.3 644.0,486.6 647.5,490.4 650.9,494.6 654.4,499.1 657.9,503.5 661.4,507.7 664.9,511.3 668.4,514.6 671.8,517.2 675.3,519.0 678.8,520.2 682.3,520.9 685.8,521.3 689.3,521.6 692.7,522.2 696.2,523.4 699.7,524.6 703.2,525.5 706.7,526.2 710.1,526.7 713.6,527.1 717.1,527.1 720.6,527.1 724.1,526.7 727.6,525.6 731.0,524.4 734.5,523.1 738.0,522.5 741.5,522.3 745.0,522.4 748.5,522.8 751.9,523.2 755.4,523.5 758.9,523.8 762.4,524.4 765.9,525.3 769.4,525.8 772.8,526.0 776.3,525.8 779.8,525.3 783.3,524.6 786.8,523.9 790.3,523.4 793.7,522.7 797.2,522.0 800.7,521.6 804.2,521.3 807.7,521.3" fill="none" stroke="#ff0000" stroke-width="2.2" stroke-linejoin="round"/>
</g>
<g clip-path="url(#cr)">
<line x1="2" y1="570" x2="830" y2="570" stroke="#bbb" stroke-width="1" stroke-dasharray="3 3"/>
<line x1="2" y1="613.5" x2="830" y2="613.5" stroke="#ff0000" stroke-width="4.6"/>
<line x1="2" y1="613.5" x2="830" y2="613.5" stroke="#dcc4c4" stroke-width="1.1" stroke-dasharray="2.6 2.6"/>
<polyline points="3.1,591.3 6.6,590.1 10.1,586.3 13.5,585.6 17.0,594.4 20.5,590.8 24.0,585.8 27.5,584.3 31.0,580.9 34.4,571.1 37.9,565.8 41.4,565.6 44.9,563.1 48.4,566.7 51.9,563.1 55.3,562.2 58.8,557.1 62.3,556.1 65.8,553.2 69.3,556.8 72.8,552.9 76.2,563.7 79.7,572.8 83.2,574.1 86.7,570.6 90.2,569.8 93.7,566.7 97.1,566.0 100.6,565.6 104.1,564.6 107.6,561.0 111.1,560.8 114.6,560.0 118.0,558.9 121.5,557.9 125.0,556.4 128.5,552.3 132.0,563.2 135.5,561.8 138.9,561.1 142.4,566.3 145.9,575.1 149.4,570.2 152.9,563.6 156.4,570.2 159.8,569.3 163.3,569.6 166.8,576.9 170.3,573.1 173.8,571.9 177.2,573.7 180.7,573.5 184.2,576.7 187.7,587.5 191.2,583.4 194.7,583.2 198.1,582.5 201.6,590.1 205.1,592.6 208.6,592.0 212.1,591.7 215.6,598.5 219.0,595.2 222.5,596.3 226.0,596.3 229.5,593.0 233.0,585.4 236.5,577.7 239.9,579.8 243.4,575.2 246.9,570.8 250.4,568.7 253.9,563.9 257.4,563.6 260.8,563.6 264.3,563.5 267.8,560.6 271.3,574.2 274.8,585.0 278.3,574.9 281.7,574.5 285.2,570.2 288.7,572.3 292.2,579.9 295.7,579.1 299.2,578.2 302.6,575.9 306.1,574.5 309.6,579.6 313.1,582.5 316.6,581.0 320.1,579.8 323.5,579.5 327.0,579.1 330.5,578.7 334.0,572.8 337.5,577.2 341.0,574.8 344.4,569.0 347.9,572.8 351.4,575.4 354.9,575.1 358.4,574.9 361.8,582.7 365.3,590.9 368.8,587.8 372.3,586.6 375.8,588.5 379.3,601.5 382.7,605.9 386.2,611.7 389.7,602.2 393.2,598.5 396.7,602.1 400.2,592.8 403.6,591.3 407.1,591.9 410.6,600.2 414.1,599.8 417.6,597.1 421.1,597.8 424.5,592.9 428.0,588.7 431.5,585.5 435.0,581.0 438.5,578.8 442.0,582.7 445.4,581.6 448.9,585.2 452.4,580.8 455.9,576.0 459.4,576.0 462.9,575.5 466.3,571.0 469.8,570.8 473.3,569.4 476.8,563.2 480.3,561.3 483.8,560.4 487.2,571.7 490.7,571.1 494.2,566.2 497.7,575.4 501.2,574.3 504.7,577.2 508.1,576.7 511.6,574.6 515.1,573.2 518.6,584.0 522.1,580.1 525.6,575.5 529.0,575.3 532.5,578.6 536.0,578.1 539.5,576.8 543.0,578.2 546.4,580.6 549.9,578.7 553.4,576.3 556.9,575.3 560.4,573.5 563.9,573.2 567.3,568.5 570.8,567.7 574.3,562.5 577.8,561.8 581.3,561.1 584.8,559.6 588.2,559.1 591.7,579.9 595.2,575.0 598.7,581.6 602.2,590.5 605.7,590.5 609.1,585.1 612.6,579.7 616.1,582.8 619.6,585.0 623.1,583.8 626.6,591.8 630.0,592.4 633.5,596.6 637.0,592.9 640.5,611.1 644.0,615.6 647.5,609.9 650.9,611.2 654.4,610.5 657.9,606.8 661.4,605.8 664.9,597.5 668.4,600.5 671.8,605.3 675.3,607.9 678.8,605.3 682.3,605.7 685.8,606.5 689.3,608.3 692.7,615.2 696.2,616.0 699.7,605.9 703.2,604.9 706.7,606.1 710.1,605.0 713.6,606.1 717.1,599.2 720.6,606.2 724.1,606.4 727.6,595.8 731.0,598.3 734.5,598.8 738.0,612.4 741.5,609.1 745.0,609.1 748.5,607.2 751.9,606.9 755.4,603.9 758.9,599.6 762.4,604.1 765.9,609.7 769.4,610.3 772.8,608.1 776.3,600.3 779.8,597.1 783.3,601.3 786.8,601.8 790.3,600.7 793.7,599.0 797.2,609.0 800.7,611.9 804.2,609.3 807.7,608.4" fill="none" stroke="#1e90ff" stroke-width="2.5" stroke-linejoin="round" stroke-linecap="round"/>
</g>
<rect x="2.5" y="2.5" width="827.0" height="450.0" fill="none" stroke="#555" stroke-width="1.2"/>
<rect x="2.5" y="454.5" width="827.0" height="81.0" fill="none" stroke="#555" stroke-width="1.2"/>
<rect x="2.5" y="537.5" width="827.0" height="108.0" fill="none" stroke="#555" stroke-width="1.2"/>
<line x1="829.5" y1="25.3" x2="833" y2="25.3" stroke="#555" stroke-width="1"/>
<text x="836" y="30.0" font-size="12.3" fill="#000">151.810</text>
<line x1="829.5" y1="82.0" x2="833" y2="82.0" stroke="#555" stroke-width="1"/>
<text x="836" y="86.7" font-size="12.3" fill="#000">146.785</text>
<line x1="829.5" y1="138.6" x2="833" y2="138.6" stroke="#555" stroke-width="1"/>
<text x="836" y="143.3" font-size="12.3" fill="#000">141.685</text>
<line x1="829.5" y1="195.2" x2="833" y2="195.2" stroke="#555" stroke-width="1"/>
<text x="836" y="199.9" font-size="12.3" fill="#000">136.660</text>
<line x1="829.5" y1="251.8" x2="833" y2="251.8" stroke="#555" stroke-width="1"/>
<text x="836" y="256.5" font-size="12.3" fill="#000">131.560</text>
<line x1="829.5" y1="308.4" x2="833" y2="308.4" stroke="#555" stroke-width="1"/>
<text x="836" y="313.1" font-size="12.3" fill="#000">126.535</text>
<line x1="829.5" y1="365.0" x2="833" y2="365.0" stroke="#555" stroke-width="1"/>
<text x="836" y="369.7" font-size="12.3" fill="#000">121.435</text>
<line x1="829.5" y1="421.6" x2="833" y2="421.6" stroke="#555" stroke-width="1"/>
<text x="836" y="426.3" font-size="12.3" fill="#000">116.410</text>
<rect x="831" y="276.2" width="54" height="14.4" fill="#000"/>
<text x="836" y="288" font-size="12.3" fill="#fff">128.751</text>
<text x="833" y="467.5" font-size="12.2" fill="#000">2.5785</text>
<rect x="831" y="488.4" width="9" height="13.4" fill="#000"/>
<text x="833" y="499.5" font-size="12.2" fill="#000"><tspan fill="#fff">0</tspan>.00</text>
<text x="833" y="531.4" font-size="12.2" fill="#000">-2.5591</text>
<text x="832.2" y="551.0" font-size="12.2" fill="#000">100</text>
<text x="832.2" y="575.0" font-size="12.2" fill="#000">70</text>
<text x="832.2" y="618.5" font-size="12.2" fill="#000">30</text>
<text x="832.2" y="642.2" font-size="12.2" fill="#000">0</text>
<line x1="3.1" y1="645.5" x2="3.1" y2="649.5" stroke="#555" stroke-width="1"/>
<text x="2.1" y="661.5" font-size="12.1" fill="#000">28 Feb 2022</text>
<line x1="114.6" y1="645.5" x2="114.6" y2="649.5" stroke="#555" stroke-width="1"/>
<text x="113.6" y="661.5" font-size="12.1" fill="#000">13 Apr 2022</text>
<line x1="226.0" y1="645.5" x2="226.0" y2="649.5" stroke="#555" stroke-width="1"/>
<text x="225.0" y="661.5" font-size="12.1" fill="#000">27 May 2022</text>
<line x1="337.5" y1="645.5" x2="337.5" y2="649.5" stroke="#555" stroke-width="1"/>
<text x="336.5" y="661.5" font-size="12.1" fill="#000">12 Jul 2022</text>
<line x1="448.9" y1="645.5" x2="448.9" y2="649.5" stroke="#555" stroke-width="1"/>
<text x="447.9" y="661.5" font-size="12.1" fill="#000">25 Aug 2022</text>
<line x1="560.4" y1="645.5" x2="560.4" y2="649.5" stroke="#555" stroke-width="1"/>
<text x="559.4" y="661.5" font-size="12.1" fill="#000">10 Oct 2022</text>
<line x1="671.9" y1="645.5" x2="671.9" y2="649.5" stroke="#555" stroke-width="1"/>
<text x="670.9" y="661.5" font-size="12.1" fill="#000">23 Nov 2022</text>
<line x1="783.3" y1="645.5" x2="783.3" y2="649.5" stroke="#555" stroke-width="1"/>
<text x="782.3" y="661.5" font-size="12.1" fill="#000">6 Jan 2023</text>
<path d="M6 9.5 L15 9.5 L10.5 15 Z" fill="#000"/>
<text x="20.8" y="16.9" font-size="12.15" fill="#000">USDJPY,Daily&#160; 128.467 128.952 128.206 128.751</text>
<text x="6.7" y="469.5" font-size="12.2" fill="#000">MACD(12,26,9) -1.9386 -2.2656</text>
<text x="6.7" y="552" font-size="12.2" fill="#000">RSI(14) 34.7483</text>
<text x="158.1" y="85.8" font-size="43.3" font-weight="bold" fill="#000" stroke="#000" stroke-width="1.2" stroke-linejoin="round" textLength="352.3" lengthAdjust="spacingAndGlyphs">USDJPY - daily</text>
<path d="M712.2 239.1 H725.6 V234.4 L735 243.1 L725.6 251.9 V247.2 H712.2 Z" fill="#fff" stroke="#008000" stroke-width="1.8"/>
<text x="747.00" y="194.48" font-size="10.50" font-weight="bold" fill="#ff0000" stroke="#ff0000" stroke-width="0.45" stroke-linejoin="round" textLength="37.60" lengthAdjust="spacingAndGlyphs">Death</text>
<text x="760.80" y="213.58" font-size="10.37" font-weight="bold" fill="#ff0000" stroke="#ff0000" stroke-width="0.44" stroke-linejoin="round" textLength="37.20" lengthAdjust="spacingAndGlyphs">Cross</text>
<text x="444.40" y="222.11" font-size="13.61" font-weight="bold" fill="#0000ff" stroke="#0000ff" stroke-width="0.58" stroke-linejoin="round" textLength="63.40" lengthAdjust="spacingAndGlyphs">50-SMA</text>
<text x="557.80" y="301.00" font-size="14.00" font-weight="bold" fill="#800080" stroke="#800080" stroke-width="0.59" stroke-linejoin="round" textLength="74.00" lengthAdjust="spacingAndGlyphs">200-SMA</text>
<text x="668.40" y="250.26" font-size="16.07" font-weight="bold" fill="#008000" stroke="#008000" stroke-width="0.68" stroke-linejoin="round" textLength="34.60" lengthAdjust="spacingAndGlyphs">BoJ</text>
<text x="627.40" y="263.67" font-size="15.69" font-weight="bold" fill="#008000" stroke="#008000" stroke-width="0.67" stroke-linejoin="round" textLength="83.60" lengthAdjust="spacingAndGlyphs">Shocker!</text>
<text x="310.00" y="558.17" font-size="15.69" font-weight="bold" fill="#1e90ff" stroke="#1e90ff" stroke-width="0.67" stroke-linejoin="round" textLength="222.20" lengthAdjust="spacingAndGlyphs">Relative Strength Index</text>
<text x="639.80" y="631.97" font-size="15.69" font-weight="bold" fill="#ff0000" stroke="#ff0000" stroke-width="0.67" stroke-linejoin="round" textLength="140.80" lengthAdjust="spacingAndGlyphs">30: OVERSOLD</text>
<text x="131.60" y="320.55" font-size="16.33" font-weight="bold" fill="#000000" stroke="#000000" stroke-width="0.69" stroke-linejoin="round" textLength="51.00" lengthAdjust="spacingAndGlyphs">125.0</text>
<polyline points="123.5,276.3 131.7,276.3 131.7,283.0" fill="none" stroke="#222" stroke-width="1"/>
<rect x="70.0" y="268.5" width="53.5" height="15.5" fill="none" stroke="#222" stroke-width="1.3"/>
<text x="72.5" y="281.8" font-size="14.5" fill="#000" textLength="49.0" lengthAdjust="spacingAndGlyphs">129.400</text>
<polyline points="389.7,252.0 389.7,265.2 399.3,265.2" fill="none" stroke="#222" stroke-width="1"/>
<rect x="399.3" y="257.4" width="52.7" height="15.6" fill="none" stroke="#222" stroke-width="1.3"/>
<text x="401.8" y="270.8" font-size="14.5" fill="#000" textLength="48.2" lengthAdjust="spacingAndGlyphs">130.396</text>
<polyline points="583.2,23.3 591.8,23.3 591.8,25.0" fill="none" stroke="#222" stroke-width="1"/>
<rect x="530.0" y="16.0" width="53.4" height="16.0" fill="none" stroke="#222" stroke-width="1.3"/>
<text x="532.5" y="29.8" font-size="14.5" fill="#000" textLength="48.9" lengthAdjust="spacingAndGlyphs">151.945</text>
<polyline points="764.0,275.3 773.0,275.3 773.0,262.0" fill="none" stroke="#222" stroke-width="1"/>
<rect x="711.1" y="267.3" width="53.6" height="16.3" fill="none" stroke="#222" stroke-width="1.3"/>
<text x="713.6" y="281.4" font-size="14.5" fill="#000" textLength="49.1" lengthAdjust="spacingAndGlyphs">129.505</text>
<polyline points="795.9,301.3 804.3,301.3 804.3,299.6" fill="none" stroke="#222" stroke-width="1"/>
<rect x="742.5" y="292.6" width="53.1" height="16.3" fill="none" stroke="#222" stroke-width="1.3"/>
<text x="745.0" y="306.7" font-size="14.5" fill="#000" textLength="48.6" lengthAdjust="spacingAndGlyphs">127.224</text>
</svg></body></html>
